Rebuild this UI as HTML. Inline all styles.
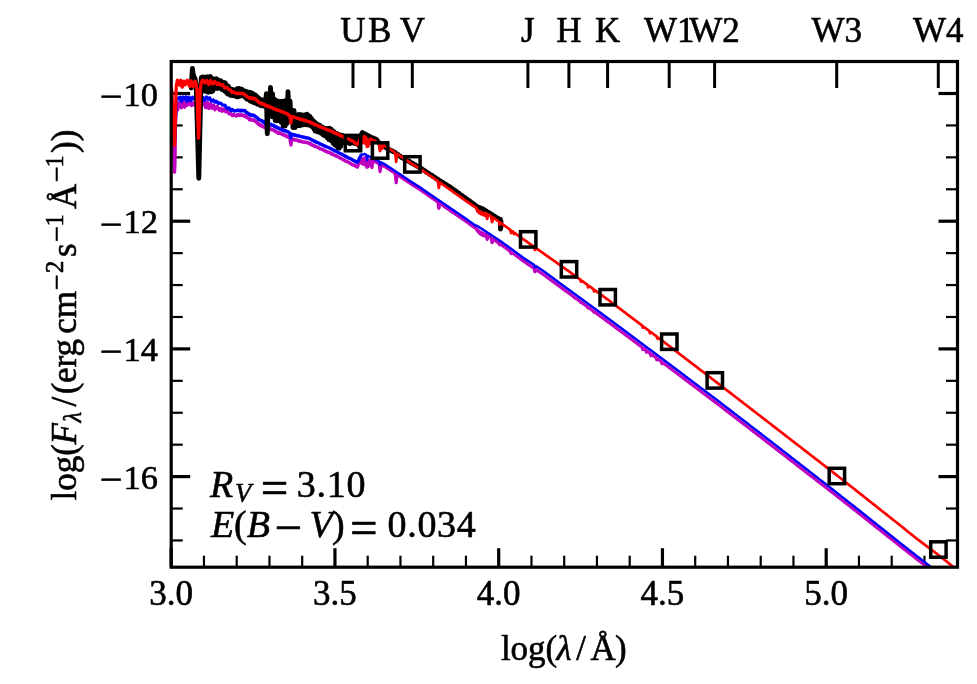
<!DOCTYPE html>
<html lang="en"><head><meta charset="utf-8"><title>SED fit</title>
<style>html,body{margin:0;padding:0;background:#fff;}svg{display:block;}text{font-family:'Liberation Serif', 'DejaVu Serif', serif;fill:#000;stroke:#000;stroke-width:0.6px;stroke-linejoin:round;}.it{font-style:italic;}</style></head><body>
<svg width="977" height="684" viewBox="0 0 977 684">
<rect x="0" y="0" width="977" height="684" fill="#fff"/>
<defs><clipPath id="ax"><rect x="171.20" y="61.50" width="786.30" height="505.70"/></clipPath></defs>
<g stroke="#000" fill="none"><line x1="171.20" y1="567.20" x2="171.20" y2="548.20" stroke-width="3.2"/><line x1="203.95" y1="567.20" x2="203.95" y2="555.70" stroke-width="2.2"/><line x1="236.70" y1="567.20" x2="236.70" y2="555.70" stroke-width="2.2"/><line x1="269.45" y1="567.20" x2="269.45" y2="555.70" stroke-width="2.2"/><line x1="302.20" y1="567.20" x2="302.20" y2="555.70" stroke-width="2.2"/><line x1="334.95" y1="567.20" x2="334.95" y2="548.20" stroke-width="3.2"/><line x1="367.70" y1="567.20" x2="367.70" y2="555.70" stroke-width="2.2"/><line x1="400.45" y1="567.20" x2="400.45" y2="555.70" stroke-width="2.2"/><line x1="433.20" y1="567.20" x2="433.20" y2="555.70" stroke-width="2.2"/><line x1="465.95" y1="567.20" x2="465.95" y2="555.70" stroke-width="2.2"/><line x1="498.70" y1="567.20" x2="498.70" y2="548.20" stroke-width="3.2"/><line x1="531.45" y1="567.20" x2="531.45" y2="555.70" stroke-width="2.2"/><line x1="564.20" y1="567.20" x2="564.20" y2="555.70" stroke-width="2.2"/><line x1="596.95" y1="567.20" x2="596.95" y2="555.70" stroke-width="2.2"/><line x1="629.70" y1="567.20" x2="629.70" y2="555.70" stroke-width="2.2"/><line x1="662.45" y1="567.20" x2="662.45" y2="548.20" stroke-width="3.2"/><line x1="695.20" y1="567.20" x2="695.20" y2="555.70" stroke-width="2.2"/><line x1="727.95" y1="567.20" x2="727.95" y2="555.70" stroke-width="2.2"/><line x1="760.70" y1="567.20" x2="760.70" y2="555.70" stroke-width="2.2"/><line x1="793.45" y1="567.20" x2="793.45" y2="555.70" stroke-width="2.2"/><line x1="826.20" y1="567.20" x2="826.20" y2="548.20" stroke-width="3.2"/><line x1="858.95" y1="567.20" x2="858.95" y2="555.70" stroke-width="2.2"/><line x1="891.70" y1="567.20" x2="891.70" y2="555.70" stroke-width="2.2"/><line x1="924.45" y1="567.20" x2="924.45" y2="555.70" stroke-width="2.2"/><line x1="957.20" y1="567.20" x2="957.20" y2="555.70" stroke-width="2.2"/><line x1="171.20" y1="540.45" x2="182.70" y2="540.45" stroke-width="2.2"/><line x1="957.50" y1="540.45" x2="946.00" y2="540.45" stroke-width="2.2"/><line x1="171.20" y1="508.53" x2="182.70" y2="508.53" stroke-width="2.2"/><line x1="957.50" y1="508.53" x2="946.00" y2="508.53" stroke-width="2.2"/><line x1="171.20" y1="476.60" x2="190.20" y2="476.60" stroke-width="3.2"/><line x1="957.50" y1="476.60" x2="938.50" y2="476.60" stroke-width="3.2"/><line x1="171.20" y1="444.68" x2="182.70" y2="444.68" stroke-width="2.2"/><line x1="957.50" y1="444.68" x2="946.00" y2="444.68" stroke-width="2.2"/><line x1="171.20" y1="412.75" x2="182.70" y2="412.75" stroke-width="2.2"/><line x1="957.50" y1="412.75" x2="946.00" y2="412.75" stroke-width="2.2"/><line x1="171.20" y1="380.83" x2="182.70" y2="380.83" stroke-width="2.2"/><line x1="957.50" y1="380.83" x2="946.00" y2="380.83" stroke-width="2.2"/><line x1="171.20" y1="348.90" x2="190.20" y2="348.90" stroke-width="3.2"/><line x1="957.50" y1="348.90" x2="938.50" y2="348.90" stroke-width="3.2"/><line x1="171.20" y1="316.98" x2="182.70" y2="316.98" stroke-width="2.2"/><line x1="957.50" y1="316.98" x2="946.00" y2="316.98" stroke-width="2.2"/><line x1="171.20" y1="285.05" x2="182.70" y2="285.05" stroke-width="2.2"/><line x1="957.50" y1="285.05" x2="946.00" y2="285.05" stroke-width="2.2"/><line x1="171.20" y1="253.13" x2="182.70" y2="253.13" stroke-width="2.2"/><line x1="957.50" y1="253.13" x2="946.00" y2="253.13" stroke-width="2.2"/><line x1="171.20" y1="221.20" x2="190.20" y2="221.20" stroke-width="3.2"/><line x1="957.50" y1="221.20" x2="938.50" y2="221.20" stroke-width="3.2"/><line x1="171.20" y1="189.28" x2="182.70" y2="189.28" stroke-width="2.2"/><line x1="957.50" y1="189.28" x2="946.00" y2="189.28" stroke-width="2.2"/><line x1="171.20" y1="157.35" x2="182.70" y2="157.35" stroke-width="2.2"/><line x1="957.50" y1="157.35" x2="946.00" y2="157.35" stroke-width="2.2"/><line x1="171.20" y1="125.43" x2="182.70" y2="125.43" stroke-width="2.2"/><line x1="957.50" y1="125.43" x2="946.00" y2="125.43" stroke-width="2.2"/><line x1="171.20" y1="93.50" x2="190.20" y2="93.50" stroke-width="3.2"/><line x1="957.50" y1="93.50" x2="938.50" y2="93.50" stroke-width="3.2"/><line x1="171.20" y1="61.57" x2="182.70" y2="61.57" stroke-width="2.2"/><line x1="957.50" y1="61.57" x2="946.00" y2="61.57" stroke-width="2.2"/><line x1="353.00" y1="61.50" x2="353.00" y2="88.00" stroke-width="3.0"/><line x1="379.80" y1="61.50" x2="379.80" y2="88.00" stroke-width="3.0"/><line x1="412.30" y1="61.50" x2="412.30" y2="88.00" stroke-width="3.0"/><line x1="527.90" y1="61.50" x2="527.90" y2="88.00" stroke-width="3.0"/><line x1="568.90" y1="61.50" x2="568.90" y2="88.00" stroke-width="3.0"/><line x1="607.60" y1="61.50" x2="607.60" y2="88.00" stroke-width="3.0"/><line x1="669.20" y1="61.50" x2="669.20" y2="88.00" stroke-width="3.0"/><line x1="714.60" y1="61.50" x2="714.60" y2="88.00" stroke-width="3.0"/><line x1="836.70" y1="61.50" x2="836.70" y2="88.00" stroke-width="3.0"/><line x1="938.30" y1="61.50" x2="938.30" y2="88.00" stroke-width="3.0"/></g>
<g clip-path="url(#ax)">
<path d="M171.2 108.8 L171.5 108.8 L171.8 108.9 L172.1 110.3 L172.4 114.7 L172.7 120.3 L173.0 126.0 L173.3 131.6 L173.6 135.9 L173.9 151.2 L174.2 161.7 L174.5 172.2 L174.8 167.6 L175.1 155.4 L175.4 126.6 L175.7 119.1 L176.0 113.3 L176.3 107.5 L176.6 108.1 L176.9 108.8 L177.2 109.4 L177.5 110.0 L177.8 108.8 L178.1 107.6 L178.4 106.4 L178.7 105.2 L179.0 104.0 L179.3 102.8 L179.6 103.4 L179.9 104.1 L180.2 104.9 L180.5 105.6 L180.8 106.3 L181.1 107.1 L181.4 107.7 L181.7 106.7 L182.0 105.8 L182.3 104.8 L182.6 103.9 L182.9 102.9 L183.2 102.0 L183.5 103.0 L183.8 104.1 L184.1 105.1 L184.4 106.2 L184.7 107.2 L185.0 106.9 L185.3 105.9 L185.6 104.8 L185.9 103.8 L186.2 102.8 L186.5 102.9 L186.8 103.5 L187.1 104.1 L187.4 104.6 L187.7 105.1 L188.0 104.7 L188.3 104.2 L188.6 103.8 L188.9 103.4 L189.2 102.9 L189.5 102.5 L189.8 102.4 L190.1 103.0 L190.4 103.7 L190.7 104.3 L191.0 105.0 L191.3 105.6 L191.6 105.6 L191.9 104.9 L192.2 104.2 L192.5 103.5 L192.8 102.8 L193.1 102.8 L193.4 103.2 L193.7 103.6 L194.0 104.0 L194.3 104.4 L194.6 104.9 L194.9 105.3 L195.2 105.2 L195.5 104.5 L195.8 103.7 L196.1 103.3 L196.4 103.6 L196.7 104.1 L197.0 105.7 L197.3 107.3 L197.6 116.5 L197.9 125.7 L198.2 134.9 L198.5 143.5 L198.8 139.9 L199.1 130.7 L199.4 121.5 L199.7 112.2 L200.0 105.6 L200.3 104.9 L200.6 104.2 L200.9 103.6 L201.2 103.7 L201.5 104.3 L201.8 104.8 L202.1 104.6 L202.4 104.1 L202.7 103.5 L203.0 103.0 L203.3 102.4 L203.6 101.9 L203.9 102.0 L204.2 103.0 L204.5 103.9 L204.8 104.9 L205.1 105.9 L205.4 106.8 L205.7 107.6 L206.0 106.4 L206.3 105.3 L206.6 104.2 L206.9 103.2 L207.2 102.1 L207.5 103.1 L207.8 104.4 L208.1 105.7 L208.4 107.0 L208.7 108.3 L209.0 108.1 L209.3 107.0 L209.6 106.0 L209.9 104.9 L210.2 103.9 L210.5 103.7 L210.8 104.6 L211.1 105.5 L211.4 106.5 L211.7 107.3 L212.0 108.2 L212.3 107.5 L212.6 106.8 L212.9 106.0 L213.2 105.3 L213.5 104.9 L213.8 106.0 L214.1 107.0 L214.4 108.1 L214.7 109.1 L215.0 109.7 L215.3 109.2 L215.6 108.7 L215.9 108.2 L216.2 107.7 L216.5 107.2 L216.8 106.7 L217.1 106.2 L217.4 106.5 L217.7 107.2 L218.0 107.8 L218.3 108.4 L218.6 108.9 L218.9 109.5 L219.2 110.1 L219.5 110.4 L219.8 109.9 L220.1 109.4 L220.4 108.9 L220.7 108.5 L221.0 108.3 L221.3 109.1 L221.6 109.8 L221.9 110.6 L222.2 111.3 L222.5 111.0 L222.8 110.5 L223.1 110.0 L223.4 109.5 L223.7 109.1 L224.0 109.4 L224.3 109.8 L224.6 110.3 L224.9 110.7 L225.2 111.1 L225.5 111.5 L225.8 111.9 L226.1 111.8 L226.4 111.8 L226.7 111.8 L227.0 111.7 L227.3 111.7 L227.6 111.7 L227.9 111.7 L228.2 112.3 L228.5 112.8 L228.8 113.3 L229.1 113.8 L229.4 113.9 L229.7 113.9 L230.0 113.8 L230.3 113.8 L230.6 113.8 L230.9 113.7 L231.2 113.9 L231.5 114.5 L231.8 115.0 L232.1 115.4 L232.4 115.7 L232.7 115.6 L233.0 115.4 L233.3 115.2 L233.6 114.9 L233.9 114.7 L234.2 114.7 L234.5 115.1 L234.8 115.3 L235.1 115.4 L235.4 115.4 L235.7 115.7 L236.0 116.0 L236.3 115.9 L236.6 115.5 L236.9 115.0 L237.2 114.8 L237.5 115.0 L237.8 115.3 L238.1 115.2 L238.4 114.9 L238.7 114.7 L239.0 114.7 L239.3 115.1 L239.6 115.5 L239.9 115.6 L240.2 115.3 L240.5 115.0 L240.8 114.7 L241.1 114.7 L241.4 115.0 L241.7 115.3 L242.0 115.4 L242.3 115.2 L242.6 115.0 L242.9 115.0 L243.2 115.4 L243.5 115.9 L243.8 116.0 L244.1 115.6 L244.4 115.3 L244.7 115.3 L245.0 115.7 L245.3 116.3 L245.6 116.9 L245.9 116.7 L246.2 116.5 L246.5 116.3 L246.8 116.8 L247.1 117.2 L247.4 117.7 L247.7 118.1 L248.0 118.2 L248.3 118.2 L248.6 118.2 L248.9 118.9 L249.2 119.5 L249.5 119.9 L249.8 119.5 L250.1 119.2 L250.4 118.8 L250.7 119.1 L251.0 119.5 L251.3 120.0 L251.6 120.0 L251.9 119.7 L252.2 119.4 L252.5 119.6 L252.8 120.0 L253.1 120.4 L253.4 120.5 L253.7 120.2 L254.0 119.9 L254.3 120.0 L254.6 120.5 L254.9 121.0 L255.2 121.3 L255.5 121.3 L255.8 121.4 L256.1 121.4 L256.4 121.9 L256.7 122.5 L257.0 123.2 L257.3 123.4 L257.6 123.3 L257.9 123.2 L258.2 123.2 L258.5 123.7 L258.8 124.3 L259.1 124.8 L259.4 124.6 L259.7 124.3 L260.0 124.5 L260.3 125.2 L260.6 125.8 L260.9 125.7 L261.2 125.5 L261.5 125.3 L261.8 125.4 L262.1 125.8 L262.4 126.3 L262.7 126.7 L263.0 126.6 L263.3 126.4 L263.6 126.3 L263.9 126.7 L264.2 127.2 L264.5 127.7 L264.8 127.9 L265.1 127.7 L265.4 127.4 L265.7 127.2 L266.0 127.4 L266.3 127.8 L266.6 128.1 L266.9 127.9 L267.2 127.8 L267.5 128.0 L267.8 128.3 L268.1 128.7 L268.4 129.1 L268.7 129.0 L269.0 128.8 L269.3 128.6 L269.6 128.3 L269.9 128.7 L270.2 129.1 L270.5 129.6 L270.8 129.5 L271.1 129.2 L271.4 129.0 L271.7 129.3 L272.0 129.6 L272.3 129.8 L272.6 129.8 L272.9 129.7 L273.2 129.8 L273.5 130.1 L273.8 130.4 L274.1 130.8 L274.4 130.8 L274.7 130.7 L275.0 130.6 L275.3 131.0 L275.6 131.5 L275.9 131.9 L276.2 131.8 L276.5 131.8 L276.8 131.7 L277.1 131.8 L277.4 132.3 L277.7 132.9 L278.0 133.2 L278.3 132.9 L278.6 132.5 L278.9 132.7 L279.2 133.0 L279.5 133.4 L279.8 133.3 L280.1 133.3 L280.4 133.2 L280.7 133.5 L281.0 133.8 L281.3 134.0 L281.6 134.1 L281.9 134.1 L282.2 134.0 L282.5 134.2 L282.8 134.5 L283.1 134.9 L283.4 135.2 L283.7 135.1 L284.0 134.9 L284.3 134.8 L284.6 134.9 L284.9 135.2 L285.2 135.6 L285.5 135.8 L285.8 135.7 L286.1 135.6 L286.4 135.7 L286.7 136.3 L287.0 136.9 L287.3 136.8 L287.6 136.6 L287.9 136.3 L288.2 136.6 L288.5 137.0 L288.8 137.3 L289.1 137.2 L289.4 137.1 L289.7 137.4 L290.0 139.6 L290.3 141.4 L290.6 143.2 L290.9 145.0 L291.2 143.2 L291.5 141.4 L291.8 139.6 L292.1 139.0 L292.4 139.3 L292.7 139.6 L293.0 139.5 L293.3 139.3 L293.6 139.1 L293.9 139.3 L294.2 139.7 L294.5 140.0 L294.8 140.1 L295.1 139.9 L295.4 139.8 L295.7 139.7 L296.0 139.8 L296.3 140.0 L296.6 140.2 L296.9 140.3 L297.2 140.2 L297.5 140.1 L297.8 140.1 L298.1 140.4 L298.4 140.9 L298.7 141.3 L299.0 141.1 L299.3 140.9 L299.6 140.8 L299.9 140.7 L300.2 141.0 L300.5 141.3 L300.8 141.6 L301.1 141.5 L301.4 141.4 L301.7 141.3 L302.0 141.5 L302.3 141.8 L302.6 142.1 L302.9 141.9 L303.2 141.8 L303.5 141.8 L303.8 142.0 L304.1 142.3 L304.4 142.5 L304.7 142.3 L305.0 142.1 L305.3 142.0 L305.6 142.2 L305.9 142.5 L306.2 142.7 L306.5 142.6 L306.8 142.5 L307.1 142.4 L307.4 142.6 L307.7 142.9 L308.0 143.2 L308.3 143.1 L308.6 142.9 L308.9 142.8 L309.2 143.1 L309.5 143.6 L309.8 144.0 L310.1 144.0 L310.4 143.9 L310.7 143.7 L311.0 143.9 L311.3 144.3 L311.6 144.8 L311.9 145.2 L312.2 145.2 L312.5 145.0 L312.8 144.9 L313.1 145.0 L313.4 145.3 L313.7 145.7 L314.0 146.0 L314.3 145.9 L314.6 145.8 L314.9 145.8 L315.2 146.1 L315.5 146.5 L315.8 146.8 L316.1 146.8 L316.4 146.8 L316.7 146.8 L317.0 147.0 L317.3 147.2 L317.6 147.4 L317.9 147.5 L318.2 147.5 L318.5 147.6 L318.8 147.7 L319.1 148.0 L319.4 148.4 L319.7 148.8 L320.0 149.0 L320.3 148.9 L320.6 148.9 L320.9 148.8 L321.2 148.8 L321.5 149.0 L321.8 149.3 L322.1 149.6 L322.4 149.6 L322.7 149.6 L323.0 149.6 L323.3 149.8 L323.6 150.2 L323.9 150.7 L324.2 150.7 L324.5 150.6 L324.8 150.5 L325.1 150.7 L325.4 151.1 L325.7 151.5 L326.0 151.5 L326.3 151.4 L326.6 151.3 L326.9 151.3 L327.2 151.6 L327.5 151.9 L327.8 152.3 L328.1 152.5 L328.4 152.4 L328.7 152.3 L329.0 152.2 L329.3 152.5 L329.6 152.7 L329.9 153.0 L330.2 153.2 L330.5 153.1 L330.8 153.0 L331.1 153.4 L331.4 153.9 L331.7 154.3 L332.0 154.3 L332.3 154.1 L332.6 154.0 L332.9 154.3 L333.2 154.5 L333.5 154.8 L333.8 154.9 L334.1 154.9 L334.4 154.9 L334.7 155.2 L335.0 155.5 L335.3 155.9 L335.6 155.9 L335.9 155.9 L336.2 155.9 L336.5 156.0 L336.8 156.3 L337.1 156.5 L337.4 156.7 L337.7 156.7 L338.0 156.7 L338.3 156.8 L338.6 157.1 L338.9 157.4 L339.2 157.7 L339.5 157.9 L339.8 157.9 L340.1 157.9 L340.4 158.0 L340.7 158.3 L341.0 158.5 L341.3 158.8 L341.6 158.8 L341.9 158.9 L342.2 159.0 L342.5 159.1 L342.8 159.5 L343.1 159.8 L343.4 160.0 L343.7 160.0 L344.0 160.0 L344.3 159.9 L344.6 160.2 L344.9 160.7 L345.2 161.1 L345.5 161.0 L345.8 161.0 L346.1 161.0 L346.4 161.1 L346.7 161.3 L347.0 161.6 L347.3 161.8 L347.6 161.9 L347.9 161.9 L348.2 162.0 L348.5 162.1 L348.8 162.4 L349.1 162.7 L349.4 163.0 L349.7 163.1 L350.0 163.2 L350.3 163.2 L350.6 163.3 L350.9 163.5 L351.2 163.9 L351.5 164.2 L351.8 164.5 L352.1 164.4 L352.4 164.3 L352.7 164.3 L353.0 164.6 L353.3 165.0 L353.6 165.3 L353.9 165.2 L354.2 165.2 L354.5 165.2 L354.8 165.5 L355.1 165.9 L355.4 166.2 L355.7 166.4 L356.0 166.3 L356.3 166.2 L356.6 166.5 L356.9 166.9 L357.2 167.2 L357.5 167.1 L357.8 166.2 L358.1 165.3 L358.4 164.5 L358.7 164.0 L359.0 163.6 L359.3 162.9 L359.6 162.0 L359.9 161.2 L360.2 160.4 L360.5 159.7 L360.8 159.0 L361.1 158.6 L361.4 159.4" fill="none" stroke="#bf00bf" stroke-width="3.30" stroke-linejoin="round" stroke-linecap="round"/>
<path d="M361.1 158.4 L361.4 159.3 L361.7 161.6 L362.0 163.8 L362.3 161.6 L362.6 159.3 L362.9 158.8 L363.2 161.6 L363.5 164.4 L363.8 163.5 L364.1 160.6 L364.4 157.9 L364.7 161.0 L365.0 164.1 L365.3 165.1 L365.6 162.0 L365.9 158.9 L366.2 160.9 L366.5 164.2 L366.8 167.4 L367.1 164.2 L367.4 160.9 L367.7 160.9 L368.0 163.8 L368.3 166.6 L368.6 163.8 L368.9 160.9 L369.2 161.8 L369.5 164.2 L369.8 165.0 L370.1 162.6 L370.4 160.2 L370.7 159.6 L371.0 159.9 L371.3 162.0 L371.6 164.8 L371.9 167.6 L372.2 166.7 L372.5 163.9 L372.8 161.1 L373.1 160.8 L373.4 161.1 L373.7 161.1 L374.0 161.2 L374.3 161.2 L374.6 161.4 L374.9 161.6 L375.2 161.8 L375.5 162.1 L375.8 162.2 L376.1 162.2 L376.4 162.2 L376.7 162.4 L377.0 162.7 L377.3 162.9 L377.6 163.2 L377.9 163.2 L378.2 163.2 L378.5 163.2 L378.8 163.5 L379.1 164.2 L379.4 166.7 L379.7 169.1 L380.0 171.6 L380.3 170.8 L380.6 168.3 L380.9 165.8 L381.2 164.8 L381.5 165.1 L381.8 165.1 L382.1 165.2 L382.4 165.3 L382.7 165.5 L383.0 165.8 L383.3 166.1 L383.6 166.3 L383.9 166.3 L384.2 166.3 L384.5 166.4 L384.8 166.5 L385.1 166.8 L385.4 167.0 L385.7 167.3 L386.0 167.3 L386.3 167.5 L386.6 167.6 L386.9 167.8 L387.2 168.2 L387.5 168.4 L387.8 168.5 L388.1 168.7 L388.4 168.8 L388.7 169.0 L389.0 169.2 L389.3 169.5 L389.6 169.8 L389.9 170.0 L390.2 170.1 L390.5 170.2 L390.8 170.4 L391.1 170.7 L391.4 170.9 L391.7 171.2 L392.0 171.3 L392.3 171.4 L392.6 171.6 L392.9 171.7 L393.2 172.0 L393.5 172.3 L393.8 172.5 L394.1 172.8 L394.4 172.9 L394.7 173.0 L395.0 173.2 L395.3 174.9 L395.6 177.6 L395.9 180.2 L396.2 182.8 L396.5 180.2 L396.8 177.6 L397.1 174.9 L397.4 175.0 L397.7 175.2 L398.0 175.3 L398.3 175.4 L398.6 175.5 L398.9 175.8 L399.2 176.2 L399.5 176.5 L399.8 176.5 L400.1 176.6 L400.4 176.7 L400.7 176.9 L401.0 177.2 L401.3 177.4 L401.6 177.6 L401.9 177.8 L402.2 177.9 L402.5 178.1 L402.8 178.4 L403.1 178.7 L403.4 179.0 L403.7 179.2 L404.0 179.3 L404.3 179.4 L404.6 179.5 L404.9 179.8 L405.2 180.1 L405.5 180.3 L405.8 180.5 L406.1 180.6 L406.4 180.8 L406.7 181.0 L407.0 181.3 L407.3 181.5 L407.6 181.6 L407.9 181.8 L408.2 181.9 L408.5 182.3 L408.8 182.6 L409.1 182.8 L409.4 182.9 L409.7 183.0 L410.0 183.2 L410.3 183.4 L410.6 183.7 L410.9 183.9 L411.2 184.0 L411.5 184.1 L411.8 184.4 L412.1 184.7 L412.4 185.0 L412.7 185.1 L413.0 185.2 L413.3 185.3 L413.6 185.6 L413.9 185.8 L414.2 186.0 L414.5 186.2 L414.8 186.3 L415.1 186.4 L415.4 186.7 L415.7 187.0 L416.0 187.2 L416.3 187.4 L416.6 187.5 L416.9 187.7 L417.2 187.8 L417.5 188.0 L417.8 188.2 L418.1 188.5 L418.4 188.7 L418.7 188.8 L419.0 188.9 L419.3 189.1 L419.6 189.4 L419.9 189.6 L420.2 189.8 L420.5 190.0 L420.8 190.1 L421.1 190.3 L421.4 190.5 L421.7 190.8 L422.0 191.1 L422.3 191.3 L422.6 191.4 L422.9 191.6 L423.2 191.8 L423.5 192.0 L423.8 192.3 L424.1 192.6 L424.4 192.8 L424.7 192.9 L425.0 193.0 L425.3 193.2 L425.6 193.5 L425.9 193.8 L426.2 194.0 L426.5 194.1 L426.8 194.3 L427.1 194.5 L427.4 194.8 L427.7 195.1 L428.0 195.4 L428.3 195.5 L428.6 195.6 L428.9 195.8 L429.2 196.0 L429.5 196.3 L429.8 196.6 L430.1 196.8 L430.4 196.9 L430.7 197.1 L431.0 197.2 L431.3 197.5 L431.6 197.7 L431.9 198.0 L432.2 198.3 L432.5 198.4 L432.8 198.5 L433.1 198.7 L433.4 198.9 L433.7 199.2 L434.0 199.4 L434.3 199.6 L434.6 199.8 L434.9 199.9 L435.2 200.2 L435.5 200.5 L435.8 200.8 L436.1 200.9 L436.4 201.0 L436.7 201.2 L437.0 201.4 L437.3 201.7 L437.6 201.9 L437.9 202.0 L438.2 204.2 L438.5 206.3 L438.8 208.4 L439.1 207.7 L439.4 205.6 L439.7 203.5 L440.0 203.6 L440.3 203.7 L440.6 203.9 L440.9 204.1 L441.2 204.4 L441.5 204.6 L441.8 204.8 L442.1 204.9 L442.4 205.1 L442.7 205.4 L443.0 205.6 L443.3 205.8 L443.6 206.0 L443.9 206.2 L444.2 206.4 L444.5 206.6 L444.8 206.9 L445.1 207.2 L445.4 207.4 L445.7 207.6 L446.0 207.7 L446.3 207.8 L446.6 208.1 L446.9 208.3 L447.2 208.6 L447.5 208.9 L447.8 209.0 L448.1 209.1 L448.4 209.3 L448.7 209.5 L449.0 209.7 L449.3 210.0 L449.6 210.2 L449.9 210.3 L450.2 210.5 L450.5 210.8 L450.8 211.1 L451.1 211.4 L451.4 211.6 L451.7 211.7 L452.0 211.8 L452.3 212.0 L452.6 212.3 L452.9 212.6 L453.2 212.8 L453.5 213.0 L453.8 213.1 L454.1 213.3 L454.4 213.4 L454.7 213.7 L455.0 214.0 L455.3 214.2 L455.6 214.3 L455.9 214.5 L456.2 214.6 L456.5 214.9 L456.8 215.1 L457.1 215.4 L457.4 215.5 L457.7 215.7 L458.0 215.9 L458.3 216.1 L458.6 216.4 L458.9 216.6 L459.2 216.9 L459.5 217.0 L459.8 217.1 L460.1 217.4 L460.4 217.7 L460.7 217.9 L461.0 218.0 L461.3 218.2 L461.6 218.3 L461.9 218.6 L462.2 218.9 L462.5 219.2 L462.8 219.3 L463.1 219.4 L463.4 219.5 L463.7 219.7 L464.0 220.0 L464.3 220.2 L464.6 220.5 L464.9 220.7 L465.2 220.8 L465.5 221.0 L465.8 221.2 L466.1 221.5 L466.4 221.7 L466.7 221.9 L467.0 222.1 L467.3 222.3 L467.6 222.5 L467.9 222.7 L468.2 223.0 L468.5 223.2 L468.8 223.5 L469.1 223.7 L469.4 223.8 L469.7 224.0 L470.0 224.3 L470.3 224.6 L470.6 224.9 L470.9 225.0 L471.2 225.2 L471.5 225.3 L471.8 225.5 L472.1 225.8 L472.4 226.1 L472.7 226.3 L473.0 226.4 L473.3 226.6 L473.6 226.9 L473.9 227.1 L474.2 227.4 L474.5 227.6 L474.8 227.7 L475.1 227.8 L475.4 228.0 L475.7 228.1 L476.0 228.2 L476.3 229.0 L476.6 229.6 L476.9 230.2 L477.2 230.8 L477.5 231.3 L477.8 230.8 L478.1 230.2 L478.4 230.9 L478.7 231.7 L479.0 232.5 L479.3 233.3 L479.6 232.5 L479.9 231.7 L480.2 232.4 L480.5 233.3 L480.8 234.2 L481.1 234.5 L481.4 233.6 L481.7 232.7 L482.0 233.3 L482.3 234.3 L482.6 235.2 L482.9 235.5 L483.2 234.6 L483.5 233.6 L483.8 234.1 L484.1 234.8 L484.4 235.6 L484.7 235.9 L485.0 235.1 L485.3 234.3 L485.6 234.2 L485.9 234.3 L486.2 235.3 L486.5 236.6 L486.8 238.0 L487.1 239.4 L487.4 238.9 L487.7 237.6 L488.0 236.2 L488.3 235.9 L488.6 236.1 L488.9 236.4 L489.2 236.6 L489.5 236.8 L489.8 237.0 L490.1 237.1 L490.4 237.4 L490.7 237.6 L491.0 237.9 L491.3 239.0 L491.6 240.6 L491.9 242.2 L492.2 242.7 L492.5 241.1 L492.8 239.6 L493.1 239.3 L493.4 239.4 L493.7 239.6 L494.0 239.7 L494.3 240.0 L494.6 240.2 L494.9 240.4 L495.2 240.6 L495.5 240.8 L495.8 241.0 L496.1 241.2 L496.4 241.4 L496.7 241.7 L497.0 242.0 L497.3 242.1 L497.6 242.2 L497.9 242.4 L498.2 242.6 L498.5 242.9 L498.8 243.2 L499.1 244.0 L499.4 244.4 L499.7 244.9 L500.0 244.7 L500.3 244.3 L500.6 244.3 L500.9 244.6 L501.2 244.7 L501.5 244.9 L501.8 245.0 L502.1 245.3 L502.4 245.6 L502.7 245.9 L503.0 246.1 L503.3 246.2 L503.6 246.4 L503.9 246.7 L504.2 247.0 L504.5 247.2 L504.8 247.4 L505.1 247.5 L505.4 247.7 L505.7 248.0 L506.0 248.2 L506.3 248.5 L506.6 248.6 L506.9 248.8 L507.2 249.0 L507.5 249.3 L507.8 249.6 L508.1 249.8 L508.4 250.0 L508.7 250.2 L509.0 250.4 L509.3 250.6 L509.6 250.9 L509.9 251.1 L510.2 251.4 L510.5 252.4 L510.8 253.0 L511.1 253.6 L511.4 253.4 L511.7 252.8 L512.0 252.7 L512.3 252.9 L512.6 253.1 L512.9 253.3 L513.2 253.4 L513.5 253.7 L513.8 253.9 L514.1 254.2 L514.4 254.4 L514.7 254.6 L515.0 254.8 L515.3 255.0 L515.6 255.3 L515.9 255.6 L516.2 255.8 L516.5 256.0 L516.8 256.2 L517.1 256.3 L517.4 256.6 L517.7 256.8 L518.0 257.1 L518.3 257.3 L518.6 257.5 L518.9 257.7 L519.2 257.9 L519.5 258.2 L519.8 258.4 L520.0 258.6 L520.4 258.9 L520.8 259.1 L521.2 259.4 L521.6 259.8 L522.0 260.2 L522.4 260.4 L522.8 260.7 L523.2 260.9 L523.6 261.3 L524.0 261.6 L524.4 261.8 L524.8 262.1 L525.2 262.3 L525.6 262.6 L526.0 262.9 L526.4 263.2 L526.8 263.4 L527.2 263.7 L527.6 263.9 L528.0 264.2 L528.4 264.6 L528.8 264.8 L529.2 265.1 L529.6 265.3 L530.0 265.6 L530.4 265.9 L530.8 266.1 L531.2 266.4 L531.6 266.6 L532.0 266.9 L532.4 267.2 L532.8 267.5 L533.2 267.7 L533.6 267.9 L534.0 268.2 L534.4 270.3 L534.8 271.7 L535.2 271.7 L535.6 270.3 L536.0 269.6 L536.4 269.9 L536.8 270.1 L537.2 270.3 L537.6 270.6 L538.0 271.0 L538.4 271.2 L538.8 271.5 L539.2 271.7 L539.6 272.0 L540.0 272.3 L540.4 272.6 L540.8 272.8 L541.2 273.0 L541.6 273.3 L542.0 273.5 L542.4 273.8 L542.8 274.1 L543.2 274.4 L543.6 274.6 L544.0 274.9 L544.4 275.3 L544.8 275.6 L545.2 275.8 L545.6 276.1 L546.0 276.4 L546.4 276.8 L546.8 277.1 L547.2 277.4 L547.6 277.6 L548.0 277.9 L548.4 278.2 L548.8 278.6 L549.2 278.8 L549.6 279.0 L550.0 279.4 L550.4 279.7 L550.8 280.0 L551.2 280.3 L551.6 280.5 L552.0 280.9 L552.4 281.2 L552.8 281.5 L553.2 281.8 L553.6 282.0 L554.0 282.3 L554.4 282.7 L554.8 283.0 L555.2 283.2 L555.6 283.5 L556.0 283.8 L556.4 284.1 L556.8 284.4 L557.2 284.7 L557.6 285.0 L558.0 285.3 L558.4 285.6 L558.8 285.9 L559.2 286.1 L559.6 286.5 L560.0 286.8 L560.4 287.1 L560.8 287.3 L561.2 287.6 L561.6 287.9 L562.0 288.2 L562.4 288.5 L562.8 288.8 L563.2 289.1 L563.6 289.4 L564.0 289.7 L564.4 290.0 L564.8 290.2 L565.2 290.6 L565.6 290.9 L566.0 291.2 L566.4 291.4 L566.8 291.7 L567.2 292.0 L567.6 292.3 L568.0 292.6 L568.4 292.9 L568.8 293.2 L569.2 293.5 L569.6 293.8 L570.0 294.1 L570.4 294.3 L570.8 294.6 L571.2 294.9 L571.6 295.2 L572.0 295.5 L572.4 295.8 L572.8 296.1 L573.2 296.5 L573.6 296.7 L574.0 297.0 L574.4 297.3 L574.8 298.1 L575.2 298.1 L575.6 298.2 L576.0 298.4 L576.4 298.7 L576.8 299.1 L577.2 299.3 L577.6 299.6 L578.0 299.9 L578.4 300.2 L578.8 300.5 L579.2 300.8 L579.6 301.0 L580.0 301.4 L580.4 301.7 L580.8 302.6 L581.2 302.6 L581.6 302.5 L582.0 302.8 L582.4 303.1 L582.8 303.4 L583.2 303.7 L583.6 304.0 L584.0 304.3 L584.4 304.6 L584.8 304.9 L585.2 305.1 L585.6 305.4 L586.0 305.7 L586.4 306.1 L586.8 306.3 L587.2 306.6 L587.6 307.4 L588.0 307.8 L588.4 307.5 L588.8 307.8 L589.2 308.0 L589.6 308.4 L590.0 308.6 L590.4 308.9 L590.8 309.2 L591.2 309.5 L591.6 309.9 L592.0 310.1 L592.4 310.4 L592.8 310.7 L593.2 311.0 L593.6 311.7 L594.0 312.3 L594.4 311.9 L594.8 312.2 L595.2 312.5 L595.6 312.7 L596.0 313.0 L596.4 313.3 L596.8 313.6 L597.2 313.9 L597.6 314.2 L598.0 314.5 L598.4 314.8 L598.8 315.1 L599.2 315.4 L599.6 315.6 L600.0 315.9 L600.4 316.3 L600.8 316.5 L601.2 316.8 L601.6 317.1 L602.0 317.4 L602.4 317.7 L602.8 318.0 L603.2 318.3 L603.6 318.6 L604.0 318.9 L604.4 319.2 L604.8 319.5 L605.2 319.8 L605.6 320.1 L606.0 320.4 L606.4 320.7 L606.8 321.0 L607.2 321.3 L607.6 321.6 L608.0 321.9 L608.4 322.2 L608.8 322.4 L609.2 322.8 L609.6 323.1 L610.0 323.3 L610.4 323.6 L610.8 323.9 L611.2 324.2 L611.6 324.5 L612.0 324.8 L612.4 325.1 L612.8 325.4 L613.2 325.7 L613.6 326.0 L614.0 326.3 L614.4 326.6 L614.8 326.9 L615.2 327.2 L615.6 327.5 L616.0 327.8 L616.4 328.1 L616.8 328.4 L617.2 328.7 L617.6 329.0 L618.0 329.3 L618.4 329.6 L618.8 329.9 L619.2 330.2 L619.6 330.5 L620.0 330.8 L620.4 331.1 L620.8 331.3 L621.2 331.7 L621.6 332.0 L622.0 332.3 L622.4 332.6 L622.8 332.8 L623.2 333.1 L623.6 333.5 L624.0 333.8 L624.4 334.0 L624.8 334.3 L625.2 334.6 L625.6 335.0 L626.0 335.2 L626.4 335.5 L626.8 335.8 L627.2 336.1 L627.6 336.4 L628.0 336.7 L628.4 337.0 L628.8 337.3 L629.2 337.6 L629.6 337.9 L630.0 338.2 L630.4 338.5 L630.8 338.8 L631.2 339.1 L631.6 339.4 L632.0 339.7 L632.4 340.0 L632.8 340.3 L633.2 340.6 L633.6 340.9 L634.0 341.2 L634.4 341.5 L634.8 341.8 L635.2 342.1 L635.6 342.4 L636.0 342.7 L636.4 343.0 L636.8 343.3 L637.2 343.6 L637.6 343.9 L638.0 344.2 L638.4 344.5 L638.8 344.8 L639.2 345.1 L639.6 345.4 L640.0 345.7 L640.4 346.0 L640.8 346.3 L641.2 346.6 L641.6 346.9 L642.0 347.2 L642.4 348.5 L642.8 349.6 L643.2 349.6 L643.6 348.5 L644.0 348.7 L644.4 349.0 L644.8 349.3 L645.2 349.6 L645.6 349.9 L646.0 351.1 L646.4 352.3 L646.8 351.7 L647.2 351.1 L647.6 351.4 L648.0 351.7 L648.4 352.0 L648.8 352.2 L649.2 352.6 L649.6 352.9 L650.0 353.2 L650.4 354.5 L650.8 355.6 L651.2 355.6 L651.6 354.5 L652.0 354.7 L652.4 354.9 L652.8 355.2 L653.2 355.5 L653.6 355.9 L654.0 356.2 L654.4 356.4 L654.8 356.7 L655.2 357.0 L655.6 357.3 L656.0 357.6 L656.4 358.7 L656.8 359.9 L657.2 359.9 L657.6 358.8 L658.0 359.1 L658.4 359.4 L658.8 359.7 L659.2 360.0 L659.6 360.3 L660.0 360.6 L660.4 360.9 L660.8 361.2 L661.2 361.5 L661.6 362.7 L662.0 363.8 L662.4 362.7 L662.8 362.7 L663.2 363.0 L663.6 363.3 L664.0 363.6 L664.4 363.9 L664.8 364.2 L665.2 364.5 L665.6 364.8 L666.0 365.1 L666.4 365.4 L666.8 365.7 L667.2 366.0 L667.6 366.3 L668.0 366.6 L668.4 366.9 L668.8 367.2 L669.2 367.5 L669.6 367.8 L670.0 368.1 L670.4 368.4 L670.8 368.7 L671.2 369.0 L671.6 369.3 L672.0 369.6 L672.4 369.9 L672.8 370.2 L673.2 370.5 L673.6 370.8 L674.0 371.1 L674.4 371.4 L674.8 371.7 L675.2 372.0 L675.6 372.3 L676.0 372.6 L676.4 372.9 L676.8 373.2 L677.2 373.5 L677.6 373.8 L678.0 374.1 L678.4 374.4 L678.8 374.7 L679.2 375.0 L679.6 375.3 L680.0 375.6 L680.4 375.9 L680.8 376.2 L681.2 376.5 L681.6 376.8 L682.0 377.1 L682.4 377.4 L682.8 377.7 L683.2 378.1 L683.6 378.4 L684.0 378.7 L684.4 378.9 L684.8 379.3 L685.2 379.6 L685.6 379.9 L686.0 380.2 L686.4 380.5 L686.8 380.8 L687.2 381.1 L687.6 381.4 L688.0 381.7 L688.4 382.0 L688.8 382.3 L689.2 382.6 L689.6 382.9 L690.0 383.2 L690.4 383.5 L690.8 383.8 L691.2 384.1 L691.6 384.4 L692.0 384.7 L692.4 385.0 L692.8 385.3 L693.2 385.6 L693.6 385.9 L694.0 386.2 L694.4 386.5 L694.8 386.8 L695.2 387.1 L695.6 387.4 L696.0 387.7 L696.4 388.0 L696.8 388.3 L697.2 388.6 L697.6 388.9 L698.0 389.2 L698.4 389.5 L698.8 389.8 L699.2 390.1 L699.6 390.4 L700.0 390.7 L701.0 391.4 L702.0 392.2 L703.0 392.9 L704.0 393.7 L705.0 394.5 L706.0 395.2 L707.0 396.0 L708.0 396.7 L709.0 397.5 L710.0 398.2 L711.0 399.0 L712.0 399.7 L713.0 400.5 L714.0 401.2 L715.0 402.0 L716.0 402.8 L717.0 403.5 L718.0 404.3 L719.0 405.1 L720.0 405.8 L721.0 406.6 L722.0 407.4 L723.0 408.1 L724.0 408.9 L725.0 409.7 L726.0 410.4 L727.0 411.2 L728.0 412.0 L729.0 412.8 L730.0 413.5 L731.0 414.3 L732.0 415.1 L733.0 415.8 L734.0 416.6 L735.0 417.4 L736.0 418.1 L737.0 418.9 L738.0 419.7 L739.0 420.4 L740.0 421.2 L741.0 422.0 L742.0 422.7 L743.0 423.5 L744.0 424.3 L745.0 425.0 L746.0 425.8 L747.0 426.6 L748.0 427.3 L749.0 428.1 L750.0 428.9 L751.0 429.7 L752.0 430.4 L753.0 431.2 L754.0 432.0 L755.0 432.7 L756.0 433.5 L757.0 434.3 L758.0 435.0 L759.0 435.8 L760.0 436.6 L761.0 437.3 L762.0 438.1 L763.0 438.9 L764.0 439.6 L765.0 440.4 L766.0 441.2 L767.0 441.9 L768.0 442.7 L769.0 443.5 L770.0 444.2 L771.0 445.0 L772.0 445.8 L773.0 446.6 L774.0 447.3 L775.0 448.1 L776.0 448.9 L777.0 449.7 L778.0 450.4 L779.0 451.2 L780.0 452.0 L781.0 452.8 L782.0 453.5 L783.0 454.3 L784.0 455.1 L785.0 455.9 L786.0 456.6 L787.0 457.4 L788.0 458.2 L789.0 459.0 L790.0 459.7 L791.0 460.5 L792.0 461.3 L793.0 462.1 L794.0 462.8 L795.0 463.6 L796.0 464.4 L797.0 465.2 L798.0 465.9 L799.0 466.7 L800.0 467.5 L801.0 468.3 L802.0 469.0 L803.0 469.8 L804.0 470.6 L805.0 471.4 L806.0 472.1 L807.0 472.9 L808.0 473.7 L809.0 474.5 L810.0 475.2 L811.0 476.0 L812.0 476.8 L813.0 477.6 L814.0 478.3 L815.0 479.1 L816.0 479.9 L817.0 480.7 L818.0 481.4 L819.0 482.2 L820.0 483.0 L821.0 483.8 L822.0 484.5 L823.0 485.3 L824.0 486.1 L825.0 486.9 L826.0 487.6 L827.0 488.4 L828.0 489.2 L829.0 490.0 L830.0 490.7 L831.0 491.5 L832.0 492.3 L833.0 493.1 L834.0 493.9 L835.0 494.6 L836.0 495.4 L837.0 496.2 L838.0 497.0 L839.0 497.8 L840.0 498.6 L841.0 499.3 L842.0 500.1 L843.0 500.9 L844.0 501.7 L845.0 502.5 L846.0 503.3 L847.0 504.0 L848.0 504.8 L849.0 505.6 L850.0 506.4 L851.0 507.2 L852.0 508.0 L853.0 508.7 L854.0 509.5 L855.0 510.3 L856.0 511.1 L857.0 511.9 L858.0 512.7 L859.0 513.5 L860.0 514.3 L861.0 515.1 L862.0 515.8 L863.0 516.6 L864.0 517.4 L865.0 518.2 L866.0 519.0 L867.0 519.8 L868.0 520.6 L869.0 521.4 L870.0 522.2 L871.0 523.0 L872.0 523.8 L873.0 524.6 L874.0 525.4 L875.0 526.2 L876.0 527.0 L877.0 527.7 L878.0 528.5 L879.0 529.3 L880.0 530.1 L881.0 530.9 L882.0 531.7 L883.0 532.5 L884.0 533.3 L885.0 534.1 L886.0 534.9 L887.0 535.7 L888.0 536.5 L889.0 537.3 L890.0 538.1 L891.0 538.8 L892.0 539.6 L893.0 540.4 L894.0 541.2 L895.0 542.0 L896.0 542.8 L897.0 543.6 L898.0 544.4 L899.0 545.2 L900.0 546.0 L901.0 546.7 L902.0 547.5 L903.0 548.3 L904.0 549.1 L905.0 549.9 L906.0 550.6 L907.0 551.4 L908.0 552.2 L909.0 553.0 L910.0 553.8 L911.0 554.6 L912.0 555.3 L913.0 556.1 L914.0 556.9 L915.0 557.7 L916.0 558.5 L917.0 559.2 L918.0 560.0 L919.0 560.8 L920.0 561.6 L921.0 562.4 L922.0 563.1 L923.0 563.9 L924.0 564.7 L925.0 565.5 L926.0 566.3 L927.0 567.0 L928.0 567.8 L929.0 568.6 L930.0 569.4 L931.0 570.2 L932.0 571.0 L933.0 571.8 L934.0 572.6 L935.0 573.3 L936.0 574.1 L937.0 574.9 L938.0 575.7 L939.0 576.5 L940.0 577.3 L941.0 577.3 L942.0 577.3 L943.0 577.3 L944.0 577.3 L945.0 577.3 L946.0 577.3 L947.0 577.3 L948.0 577.3 L949.0 577.3 L950.0 577.3 L951.0 577.3 L952.0 577.3 L953.0 577.3 L954.0 577.3 L955.0 577.3 L956.0 577.3 L957.0 577.3 L958.0 577.3" fill="none" stroke="#bf00bf" stroke-width="3.10" stroke-linejoin="round" stroke-linecap="round"/>
<path d="M171.2 103.3 L171.5 103.6 L171.8 103.8 L172.1 104.2 L172.4 108.4 L172.7 113.7 L173.0 119.0 L173.3 124.4 L173.6 129.7 L173.9 133.8 L174.2 137.6 L174.5 141.4 L174.8 137.3 L175.1 129.4 L175.4 121.5 L175.7 114.3 L176.0 107.4 L176.3 100.4 L176.6 99.9 L176.9 99.3 L177.2 98.8 L177.5 99.1 L177.8 99.1 L178.1 98.8 L178.4 98.5 L178.7 98.2 L179.0 98.0 L179.3 97.7 L179.6 97.4 L179.9 97.3 L180.2 98.3 L180.5 99.3 L180.8 100.2 L181.1 101.2 L181.4 101.4 L181.7 100.4 L182.0 99.4 L182.3 98.5 L182.6 97.5 L182.9 97.1 L183.2 97.7 L183.5 98.3 L183.8 98.8 L184.1 99.4 L184.4 99.0 L184.7 98.6 L185.0 98.1 L185.3 97.6 L185.6 97.1 L185.9 96.8 L186.2 97.9 L186.5 99.0 L186.8 100.1 L187.1 101.2 L187.4 101.1 L187.7 100.3 L188.0 99.5 L188.3 98.7 L188.6 97.9 L188.9 97.1 L189.2 97.4 L189.5 98.0 L189.8 98.6 L190.1 99.2 L190.4 99.8 L190.7 100.3 L191.0 100.6 L191.3 99.9 L191.6 99.2 L191.9 98.6 L192.2 97.9 L192.5 97.3 L192.8 97.6 L193.1 97.9 L193.4 98.2 L193.7 98.6 L194.0 98.9 L194.3 99.2 L194.6 99.2 L194.9 98.8 L195.2 98.3 L195.5 97.9 L195.8 97.5 L196.1 97.4 L196.4 98.2 L196.7 100.4 L197.0 102.5 L197.3 104.7 L197.6 114.4 L197.9 122.7 L198.2 130.5 L198.5 138.3 L198.8 134.8 L199.1 125.5 L199.4 116.2 L199.7 107.8 L200.0 102.4 L200.3 101.9 L200.6 101.5 L200.9 101.0 L201.2 100.8 L201.5 100.1 L201.8 99.5 L202.1 98.8 L202.4 98.1 L202.7 97.4 L203.0 97.6 L203.3 98.2 L203.6 98.8 L203.9 99.5 L204.2 100.1 L204.5 100.3 L204.8 99.7 L205.1 99.2 L205.4 98.6 L205.7 98.1 L206.0 97.6 L206.3 97.0 L206.6 97.2 L206.9 97.6 L207.2 98.0 L207.5 98.4 L207.8 98.8 L208.1 99.2 L208.4 99.0 L208.7 98.6 L209.0 98.2 L209.3 98.0 L209.6 97.8 L209.9 98.4 L210.2 99.0 L210.5 99.6 L210.8 100.1 L211.1 100.7 L211.4 101.2 L211.7 101.1 L212.0 100.9 L212.3 100.7 L212.6 100.5 L212.9 100.3 L213.2 100.1 L213.5 99.9 L213.8 100.3 L214.1 100.8 L214.4 101.3 L214.7 101.7 L215.0 102.2 L215.3 102.2 L215.6 102.0 L215.9 101.8 L216.2 101.6 L216.5 101.4 L216.8 101.5 L217.1 101.9 L217.4 102.3 L217.7 102.6 L218.0 103.0 L218.3 103.3 L218.6 103.3 L218.9 103.3 L219.2 103.2 L219.5 103.2 L219.8 103.1 L220.1 103.1 L220.4 103.1 L220.7 103.2 L221.0 103.5 L221.3 103.8 L221.6 104.1 L221.9 104.4 L222.2 104.6 L222.5 104.9 L222.8 105.2 L223.1 105.2 L223.4 105.1 L223.7 105.1 L224.0 105.1 L224.3 105.1 L224.6 105.1 L224.9 105.2 L225.2 105.7 L225.5 106.2 L225.8 106.7 L226.1 107.2 L226.4 107.7 L226.7 108.1 L227.0 108.6 L227.3 108.5 L227.6 108.4 L227.9 108.3 L228.2 108.2 L228.5 108.1 L228.8 108.0 L229.1 107.9 L229.4 108.3 L229.7 108.9 L230.0 109.4 L230.3 109.9 L230.6 110.5 L230.9 110.7 L231.2 110.4 L231.5 110.0 L231.8 109.7 L232.1 109.4 L232.4 109.4 L232.7 109.7 L233.0 110.0 L233.3 110.4 L233.6 110.7 L233.9 111.0 L234.2 111.2 L234.5 111.0 L234.8 110.8 L235.1 110.7 L235.4 110.6 L235.7 110.7 L236.0 110.8 L236.3 110.6 L236.6 110.5 L236.9 110.3 L237.2 110.2 L237.5 110.4 L237.8 110.6 L238.1 110.5 L238.4 110.3 L238.7 110.1 L239.0 110.2 L239.3 110.5 L239.6 110.8 L239.9 111.0 L240.2 110.7 L240.5 110.4 L240.8 110.1 L241.1 110.3 L241.4 110.5 L241.7 110.8 L242.0 110.8 L242.3 110.6 L242.6 110.5 L242.9 110.3 L243.2 110.5 L243.5 110.7 L243.8 110.9 L244.1 110.9 L244.4 110.8 L244.7 110.6 L245.0 110.5 L245.3 111.1 L245.6 111.6 L245.9 112.2 L246.2 112.6 L246.5 112.5 L246.8 112.4 L247.1 112.4 L247.4 112.8 L247.7 113.2 L248.0 113.4 L248.3 113.6 L248.6 113.7 L248.9 113.8 L249.2 114.2 L249.5 114.7 L249.8 115.1 L250.1 114.7 L250.4 114.4 L250.7 114.5 L251.0 114.8 L251.3 115.1 L251.6 115.3 L251.9 115.1 L252.2 114.9 L252.5 114.8 L252.8 115.1 L253.1 115.3 L253.4 115.5 L253.7 115.3 L254.0 115.2 L254.3 115.3 L254.6 115.8 L254.9 116.3 L255.2 116.7 L255.5 116.6 L255.8 116.5 L256.1 116.8 L256.4 117.2 L256.7 117.7 L257.0 118.1 L257.3 118.2 L257.6 118.2 L257.9 118.1 L258.2 118.6 L258.5 119.1 L258.8 119.6 L259.1 120.0 L259.4 119.9 L259.7 119.9 L260.0 119.8 L260.3 119.8 L260.6 120.1 L260.9 120.4 L261.2 120.6 L261.5 120.7 L261.8 120.7 L262.1 120.6 L262.4 121.3 L262.7 121.9 L263.0 122.1 L263.3 122.0 L263.6 121.8 L263.9 121.6 L264.2 122.0 L264.5 122.6 L264.8 123.2 L265.1 123.1 L265.4 122.7 L265.7 122.4 L266.0 122.8 L266.3 123.1 L266.6 123.5 L266.9 123.6 L267.2 123.5 L267.5 123.3 L267.8 123.2 L268.1 123.5 L268.4 123.7 L268.7 123.9 L269.0 124.1 L269.3 124.0 L269.6 123.8 L269.9 124.0 L270.2 124.4 L270.5 124.9 L270.8 125.0 L271.1 124.6 L271.4 124.3 L271.7 124.5 L272.0 124.9 L272.3 125.4 L272.6 125.3 L272.9 125.2 L273.2 125.2 L273.5 125.2 L273.8 125.7 L274.1 126.1 L274.4 126.5 L274.7 126.8 L275.0 126.6 L275.3 126.5 L275.6 126.3 L275.9 126.5 L276.2 126.9 L276.5 127.4 L276.8 127.6 L277.1 127.5 L277.4 127.3 L277.7 127.4 L278.0 127.8 L278.3 128.2 L278.6 128.4 L278.9 128.4 L279.2 128.3 L279.5 128.2 L279.8 128.3 L280.1 128.8 L280.4 129.4 L280.7 129.6 L281.0 129.4 L281.3 129.2 L281.6 129.1 L281.9 129.5 L282.2 129.9 L282.5 130.3 L282.8 130.5 L283.1 130.4 L283.4 130.2 L283.7 130.0 L284.0 130.1 L284.3 130.6 L284.6 131.1 L284.9 131.1 L285.2 130.9 L285.5 130.7 L285.8 130.6 L286.1 131.0 L286.4 131.3 L286.7 131.6 L287.0 131.9 L287.3 131.8 L287.6 131.7 L287.9 131.7 L288.2 131.8 L288.5 132.2 L288.8 132.5 L289.1 132.7 L289.4 132.8 L289.7 132.8 L290.0 133.7 L290.3 135.1 L290.6 136.5 L290.9 137.9 L291.2 136.5 L291.5 135.1 L291.8 134.1 L292.1 134.2 L292.4 134.5 L292.7 134.9 L293.0 134.9 L293.3 134.7 L293.6 134.5 L293.9 134.8 L294.2 135.0 L294.5 135.3 L294.8 135.4 L295.1 135.2 L295.4 135.0 L295.7 135.1 L296.0 135.4 L296.3 135.6 L296.6 135.9 L296.9 135.8 L297.2 135.7 L297.5 135.5 L297.8 135.5 L298.1 135.8 L298.4 136.1 L298.7 136.1 L299.0 136.1 L299.3 136.0 L299.6 136.0 L299.9 136.2 L300.2 136.4 L300.5 136.7 L300.8 136.7 L301.1 136.7 L301.4 136.6 L301.7 136.6 L302.0 136.8 L302.3 137.0 L302.6 137.1 L302.9 137.0 L303.2 137.0 L303.5 137.0 L303.8 137.1 L304.1 137.3 L304.4 137.5 L304.7 137.5 L305.0 137.4 L305.3 137.4 L305.6 137.5 L305.9 137.8 L306.2 138.0 L306.5 138.2 L306.8 138.1 L307.1 138.0 L307.4 137.8 L307.7 138.0 L308.0 138.2 L308.3 138.2 L308.6 138.2 L308.9 138.1 L309.2 138.3 L309.5 138.5 L309.8 138.8 L310.1 139.1 L310.4 139.2 L310.7 139.2 L311.0 139.2 L311.3 139.3 L311.6 139.6 L311.9 140.0 L312.2 140.3 L312.5 140.4 L312.8 140.4 L313.1 140.3 L313.4 140.3 L313.7 140.7 L314.0 141.0 L314.3 141.4 L314.6 141.5 L314.9 141.5 L315.2 141.4 L315.5 141.4 L315.8 141.9 L316.1 142.3 L316.4 142.5 L316.7 142.4 L317.0 142.3 L317.3 142.4 L317.6 142.6 L317.9 142.8 L318.2 143.0 L318.5 143.0 L318.8 143.0 L319.1 143.2 L319.4 143.6 L319.7 144.0 L320.0 143.9 L320.3 143.9 L320.6 143.8 L320.9 144.2 L321.2 144.5 L321.5 144.7 L321.8 144.6 L322.1 144.6 L322.4 144.8 L322.7 145.1 L323.0 145.4 L323.3 145.6 L323.6 145.6 L323.9 145.6 L324.2 145.5 L324.5 145.7 L324.8 146.1 L325.1 146.4 L325.4 146.6 L325.7 146.5 L326.0 146.4 L326.3 146.5 L326.6 146.9 L326.9 147.2 L327.2 147.2 L327.5 147.2 L327.8 147.2 L328.1 147.3 L328.4 147.5 L328.7 147.7 L329.0 147.9 L329.3 147.9 L329.6 147.9 L329.9 148.0 L330.2 148.2 L330.5 148.5 L330.8 148.8 L331.1 148.8 L331.4 148.9 L331.7 148.9 L332.0 149.1 L332.3 149.3 L332.6 149.6 L332.9 149.8 L333.2 149.8 L333.5 149.8 L333.8 150.1 L334.1 150.5 L334.4 151.0 L334.7 150.9 L335.0 150.8 L335.3 150.7 L335.6 150.9 L335.9 151.2 L336.2 151.4 L336.5 151.5 L336.8 151.6 L337.1 151.7 L337.4 151.9 L337.7 152.3 L338.0 152.7 L338.3 152.9 L338.6 152.9 L338.9 152.8 L339.2 152.8 L339.5 153.1 L339.8 153.4 L340.1 153.7 L340.4 153.7 L340.7 153.7 L341.0 153.7 L341.3 154.0 L341.6 154.3 L341.9 154.6 L342.2 154.6 L342.5 154.6 L342.8 154.6 L343.1 154.9 L343.4 155.2 L343.7 155.5 L344.0 155.5 L344.3 155.5 L344.6 155.6 L344.9 155.9 L345.2 156.2 L345.5 156.5 L345.8 156.4 L346.1 156.4 L346.4 156.5 L346.7 156.8 L347.0 157.2 L347.3 157.3 L347.6 157.3 L347.9 157.3 L348.2 157.5 L348.5 157.9 L348.8 158.2 L349.1 158.4 L349.4 158.3 L349.7 158.3 L350.0 158.3 L350.3 158.5 L350.6 158.8 L350.9 159.0 L351.2 159.1 L351.5 159.2 L351.8 159.2 L352.1 159.5 L352.4 159.8 L352.7 160.2 L353.0 160.4 L353.3 160.4 L353.6 160.3 L353.9 160.3 L354.2 160.6 L354.5 161.0 L354.8 161.3 L355.1 161.3 L355.4 161.3 L355.7 161.4 L356.0 161.7 L356.3 162.1 L356.6 162.3 L356.9 162.3 L357.2 162.3 L357.5 162.2 L357.8 161.6 L358.1 161.1 L358.4 160.5 L358.7 159.9 L359.0 159.2 L359.3 158.5 L359.6 157.9 L359.9 157.4 L360.2 156.8 L360.5 156.2 L360.8 155.5 L361.1 155.0 L361.4 154.9" fill="none" stroke="#0000ff" stroke-width="3.30" stroke-linejoin="round" stroke-linecap="round"/>
<path d="M361.1 155.3 L361.4 155.2 L361.7 155.1 L362.0 155.0 L362.3 154.8 L362.6 154.7 L362.9 154.5 L363.2 154.5 L363.5 154.4 L363.8 154.3 L364.1 154.2 L364.4 154.0 L364.7 154.0 L365.0 154.1 L365.3 154.3 L365.6 154.5 L365.9 154.7 L366.2 154.8 L366.5 156.0 L366.8 158.0 L367.1 160.1 L367.4 159.4 L367.7 157.3 L368.0 155.8 L368.3 155.9 L368.6 156.0 L368.9 156.2 L369.2 156.4 L369.5 156.7 L369.8 156.7 L370.1 156.8 L370.4 156.9 L370.7 157.1 L371.0 157.4 L371.3 157.6 L371.6 157.7 L371.9 157.8 L372.2 157.8 L372.5 158.0 L372.8 158.2 L373.1 158.4 L373.4 158.5 L373.7 158.6 L374.0 158.7 L374.3 158.9 L374.6 159.1 L374.9 159.3 L375.2 159.5 L375.5 159.6 L375.8 159.6 L376.1 159.8 L376.4 160.1 L376.7 160.3 L377.0 160.4 L377.3 160.5 L377.6 160.5 L377.9 160.6 L378.2 160.8 L378.5 161.0 L378.8 161.2 L379.1 161.3 L379.4 162.5 L379.7 163.6 L380.0 164.7 L380.3 164.3 L380.6 163.3 L380.9 162.3 L381.2 162.4 L381.5 162.5 L381.8 162.7 L382.1 162.9 L382.4 163.1 L382.7 163.3 L383.0 163.4 L383.3 163.5 L383.6 163.6 L383.9 163.8 L384.2 164.1 L384.5 164.4 L384.8 164.5 L385.1 164.5 L385.4 164.6 L385.7 164.8 L386.0 165.0 L386.3 165.2 L386.6 165.4 L386.9 165.6 L387.2 165.8 L387.5 166.0 L387.8 166.3 L388.1 166.6 L388.4 166.7 L388.7 166.8 L389.0 167.0 L389.3 167.2 L389.6 167.4 L389.9 167.7 L390.2 167.8 L390.5 167.9 L390.8 168.2 L391.1 168.4 L391.4 168.7 L391.7 168.9 L392.0 169.0 L392.3 169.2 L392.6 169.4 L392.9 169.6 L393.2 169.9 L393.5 170.1 L393.8 170.2 L394.1 170.3 L394.4 170.5 L394.7 170.8 L395.0 171.0 L395.3 171.2 L395.6 171.4 L395.9 171.6 L396.2 171.7 L396.5 172.0 L396.8 172.3 L397.1 172.5 L397.4 172.7 L397.7 172.8 L398.0 172.9 L398.3 173.1 L398.6 173.4 L398.9 173.7 L399.2 173.9 L399.5 174.0 L399.8 174.1 L400.1 174.3 L400.4 174.6 L400.7 174.8 L401.0 175.0 L401.3 175.1 L401.6 175.3 L401.9 175.6 L402.2 175.8 L402.5 176.1 L402.8 176.3 L403.1 176.4 L403.4 176.5 L403.7 176.7 L404.0 177.0 L404.3 177.2 L404.6 177.4 L404.9 177.6 L405.2 177.7 L405.5 178.0 L405.8 178.3 L406.1 178.5 L406.4 178.6 L406.7 178.8 L407.0 178.9 L407.3 179.2 L407.6 179.4 L407.9 179.6 L408.2 179.8 L408.5 180.0 L408.8 180.1 L409.1 180.4 L409.4 180.6 L409.7 180.9 L410.0 181.0 L410.3 181.2 L410.6 181.3 L410.9 181.5 L411.2 181.8 L411.5 182.0 L411.8 182.2 L412.1 182.4 L412.4 182.5 L412.7 182.7 L413.0 182.9 L413.3 183.1 L413.6 183.4 L413.9 183.6 L414.2 183.7 L414.5 183.9 L414.8 184.0 L415.1 184.2 L415.4 184.5 L415.7 184.7 L416.0 184.8 L416.3 185.0 L416.6 185.1 L416.9 185.4 L417.2 185.6 L417.5 185.8 L417.8 186.0 L418.1 186.1 L418.4 186.2 L418.7 186.5 L419.0 186.7 L419.3 186.9 L419.6 187.1 L419.9 187.2 L420.2 187.4 L420.5 187.6 L420.8 187.8 L421.1 188.1 L421.4 188.3 L421.7 188.5 L422.0 188.7 L422.3 188.9 L422.6 189.2 L422.9 189.4 L423.2 189.6 L423.5 189.7 L423.8 189.9 L424.1 190.2 L424.4 190.5 L424.7 190.6 L425.0 190.8 L425.3 191.0 L425.6 191.2 L425.9 191.4 L426.2 191.7 L426.5 191.9 L426.8 192.0 L427.1 192.2 L427.4 192.4 L427.7 192.7 L428.0 192.9 L428.3 193.2 L428.6 193.3 L428.9 193.5 L429.2 193.7 L429.5 193.9 L429.8 194.2 L430.1 194.5 L430.4 194.7 L430.7 194.8 L431.0 194.9 L431.3 195.1 L431.6 195.4 L431.9 195.6 L432.2 195.8 L432.5 196.0 L432.8 196.1 L433.1 196.4 L433.4 196.6 L433.7 196.9 L434.0 197.1 L434.3 197.3 L434.6 197.4 L434.9 197.6 L435.2 197.8 L435.5 198.0 L435.8 198.3 L436.1 198.5 L436.4 198.7 L436.7 198.8 L437.0 199.0 L437.3 199.2 L437.6 199.5 L437.9 199.7 L438.2 199.9 L438.5 200.1 L438.8 200.2 L439.1 200.5 L439.4 200.8 L439.7 201.0 L440.0 201.1 L440.3 201.3 L440.6 201.4 L440.9 201.7 L441.2 201.9 L441.5 202.1 L441.8 202.3 L442.1 202.5 L442.4 202.7 L442.7 202.9 L443.0 203.1 L443.3 203.4 L443.6 203.6 L443.9 203.7 L444.2 203.9 L444.5 204.1 L444.8 204.4 L445.1 204.6 L445.4 204.8 L445.7 205.0 L446.0 205.1 L446.3 205.4 L446.6 205.6 L446.9 205.9 L447.2 206.0 L447.5 206.2 L447.8 206.4 L448.1 206.5 L448.4 206.8 L448.7 207.0 L449.0 207.3 L449.3 207.5 L449.6 207.6 L449.9 207.8 L450.2 208.0 L450.5 208.2 L450.8 208.4 L451.1 208.6 L451.4 208.9 L451.7 209.0 L452.0 209.2 L452.3 209.4 L452.6 209.6 L452.9 209.8 L453.2 210.1 L453.5 210.3 L453.8 210.5 L454.1 210.6 L454.4 210.8 L454.7 211.1 L455.0 211.3 L455.3 211.5 L455.6 211.7 L455.9 211.9 L456.2 212.1 L456.5 212.3 L456.8 212.5 L457.1 212.7 L457.4 212.9 L457.7 213.2 L458.0 213.3 L458.3 213.5 L458.6 213.7 L458.9 213.9 L459.2 214.2 L459.5 214.4 L459.8 214.6 L460.1 214.7 L460.4 214.9 L460.7 215.2 L461.0 215.4 L461.3 215.6 L461.6 215.8 L461.9 215.9 L462.2 216.2 L462.5 216.4 L462.8 216.6 L463.1 216.9 L463.4 217.0 L463.7 217.2 L464.0 217.4 L464.3 217.6 L464.6 217.8 L464.9 218.1 L465.2 218.2 L465.5 218.4 L465.8 218.6 L466.1 218.9 L466.4 219.1 L466.7 219.3 L467.0 219.5 L467.3 219.7 L467.6 219.9 L467.9 220.2 L468.2 220.5 L468.5 220.6 L468.8 220.8 L469.1 221.0 L469.4 221.2 L469.7 221.5 L470.0 221.7 L470.3 222.0 L470.6 222.1 L470.9 222.3 L471.2 222.5 L471.5 222.7 L471.8 223.0 L472.1 223.2 L472.4 223.5 L472.7 223.6 L473.0 223.8 L473.3 224.0 L473.6 224.2 L473.9 224.4 L474.2 224.6 L474.5 224.8 L474.8 225.0 L475.1 225.2 L475.4 225.3 L475.7 225.4 L476.0 225.5 L476.3 225.6 L476.6 225.7 L476.9 225.8 L477.2 226.0 L477.5 226.2 L477.8 226.3 L478.1 226.5 L478.4 226.7 L478.7 226.9 L479.0 227.0 L479.3 227.2 L479.6 227.4 L479.9 227.7 L480.2 227.9 L480.5 228.1 L480.8 228.3 L481.1 228.4 L481.4 228.6 L481.7 228.8 L482.0 229.0 L482.3 229.3 L482.6 229.5 L482.9 229.6 L483.2 229.7 L483.5 230.0 L483.8 230.2 L484.1 230.4 L484.4 230.7 L484.7 230.8 L485.0 231.0 L485.3 231.1 L485.6 231.4 L485.9 231.6 L486.2 231.8 L486.5 232.0 L486.8 232.1 L487.1 232.3 L487.4 232.5 L487.7 232.7 L488.0 232.9 L488.3 233.1 L488.6 233.3 L488.9 233.5 L489.2 233.7 L489.5 233.9 L489.8 234.1 L490.1 234.3 L490.4 234.5 L490.7 234.6 L491.0 234.9 L491.3 235.1 L491.6 235.4 L491.9 235.5 L492.2 235.7 L492.5 235.9 L492.8 236.1 L493.1 236.3 L493.4 236.5 L493.7 236.7 L494.0 236.9 L494.3 237.1 L494.6 237.2 L494.9 237.4 L495.2 237.6 L495.5 237.8 L495.8 238.1 L496.1 238.3 L496.4 238.4 L496.7 238.6 L497.0 238.8 L497.3 239.0 L497.6 239.2 L497.9 239.4 L498.2 239.6 L498.5 239.8 L498.8 240.0 L499.1 240.2 L499.4 240.4 L499.7 240.6 L500.0 240.8 L500.3 241.0 L500.6 241.2 L500.9 241.4 L501.2 241.7 L501.5 241.9 L501.8 242.1 L502.1 242.3 L502.4 242.5 L502.7 242.7 L503.0 242.9 L503.3 243.2 L503.6 243.4 L503.9 243.6 L504.2 243.8 L504.5 244.0 L504.8 244.3 L505.1 244.5 L505.4 244.7 L505.7 244.9 L506.0 245.1 L506.3 245.3 L506.6 245.5 L506.9 245.8 L507.2 246.0 L507.5 246.2 L507.8 246.4 L508.1 246.6 L508.4 246.8 L508.7 247.1 L509.0 247.3 L509.3 247.5 L509.6 247.7 L509.9 247.9 L510.2 248.1 L510.5 248.3 L510.8 248.6 L511.1 248.8 L511.4 249.0 L511.7 249.2 L512.0 249.4 L512.3 249.6 L512.6 249.9 L512.9 250.1 L513.2 250.4 L513.5 250.6 L513.8 250.8 L514.1 250.9 L514.4 251.2 L514.7 251.4 L515.0 251.7 L515.3 251.9 L515.6 252.1 L515.9 252.3 L516.2 252.5 L516.5 252.7 L516.8 253.0 L517.1 253.2 L517.4 253.5 L517.7 253.7 L518.0 253.9 L518.3 254.1 L518.6 254.3 L518.9 254.5 L519.2 254.8 L519.5 255.0 L519.8 255.2 L520.0 255.3 L520.4 255.6 L520.8 255.9 L521.2 256.2 L521.6 256.5 L522.0 256.8 L522.4 257.1 L522.8 257.4 L523.2 257.7 L523.6 258.0 L524.0 258.3 L524.4 258.6 L524.8 258.9 L525.2 259.1 L525.6 259.3 L526.0 259.6 L526.4 259.9 L526.8 260.1 L527.2 260.4 L527.6 260.6 L528.0 260.9 L528.4 261.2 L528.8 261.4 L529.2 261.7 L529.6 261.9 L530.0 262.2 L530.4 262.5 L530.8 262.7 L531.2 263.0 L531.6 263.2 L532.0 263.5 L532.4 263.8 L532.8 264.0 L533.2 264.3 L533.6 264.6 L534.0 264.8 L534.4 266.4 L534.8 267.3 L535.2 267.3 L535.6 266.4 L536.0 266.1 L536.4 266.4 L536.8 266.7 L537.2 267.0 L537.6 267.2 L538.0 267.4 L538.4 267.7 L538.8 268.0 L539.2 268.3 L539.6 268.5 L540.0 268.7 L540.4 269.0 L540.8 269.3 L541.2 269.6 L541.6 269.8 L542.0 270.1 L542.4 270.3 L542.8 270.6 L543.2 270.9 L543.6 271.2 L544.0 271.5 L544.4 271.7 L544.8 272.1 L545.2 272.4 L545.6 272.7 L546.0 272.9 L546.4 273.2 L546.8 273.5 L547.2 273.9 L547.6 274.1 L548.0 274.4 L548.4 274.7 L548.8 275.0 L549.2 275.3 L549.6 275.6 L550.0 275.9 L550.4 276.2 L550.8 276.5 L551.2 276.8 L551.6 277.1 L552.0 277.3 L552.4 277.6 L552.8 278.0 L553.2 278.3 L553.6 278.5 L554.0 278.8 L554.4 279.1 L554.8 279.4 L555.2 279.7 L555.6 280.0 L556.0 280.3 L556.4 280.6 L556.8 280.9 L557.2 281.2 L557.6 281.5 L558.0 281.8 L558.4 282.1 L558.8 282.4 L559.2 282.7 L559.6 283.0 L560.0 283.3 L560.4 283.5 L560.8 283.8 L561.2 284.1 L561.6 284.4 L562.0 284.7 L562.4 285.0 L562.8 285.3 L563.2 285.6 L563.6 285.9 L564.0 286.2 L564.4 286.5 L564.8 286.8 L565.2 287.1 L565.6 287.3 L566.0 287.6 L566.4 287.9 L566.8 288.2 L567.2 288.5 L567.6 288.8 L568.0 289.1 L568.4 289.4 L568.8 289.7 L569.2 290.0 L569.6 290.3 L570.0 290.5 L570.4 290.8 L570.8 291.2 L571.2 291.4 L571.6 291.7 L572.0 292.0 L572.4 292.3 L572.8 292.6 L573.2 292.9 L573.6 293.2 L574.0 293.5 L574.4 293.8 L574.8 294.1 L575.2 294.3 L575.6 294.6 L576.0 294.9 L576.4 295.2 L576.8 295.5 L577.2 295.8 L577.6 296.1 L578.0 296.4 L578.4 296.7 L578.8 297.0 L579.2 297.3 L579.6 297.6 L580.0 297.9 L580.4 298.1 L580.8 298.4 L581.2 298.7 L581.6 299.0 L582.0 299.3 L582.4 299.6 L582.8 299.9 L583.2 300.2 L583.6 300.5 L584.0 300.8 L584.4 301.1 L584.8 301.3 L585.2 301.6 L585.6 301.9 L586.0 302.2 L586.4 302.5 L586.8 302.8 L587.2 303.1 L587.6 303.4 L588.0 303.7 L588.4 304.0 L588.8 304.3 L589.2 304.6 L589.6 304.8 L590.0 305.1 L590.4 305.4 L590.8 305.7 L591.2 306.0 L591.6 306.3 L592.0 306.6 L592.4 306.9 L592.8 307.2 L593.2 307.5 L593.6 307.8 L594.0 308.1 L594.4 308.3 L594.8 308.6 L595.2 308.9 L595.6 309.2 L596.0 309.5 L596.4 309.8 L596.8 310.1 L597.2 310.4 L597.6 310.7 L598.0 311.0 L598.4 311.3 L598.8 311.6 L599.2 311.8 L599.6 312.1 L600.0 312.4 L600.4 312.7 L600.8 313.0 L601.2 313.3 L601.6 313.6 L602.0 313.9 L602.4 314.2 L602.8 314.5 L603.2 314.8 L603.6 315.1 L604.0 315.4 L604.4 315.7 L604.8 316.0 L605.2 316.3 L605.6 316.6 L606.0 316.9 L606.4 317.2 L606.8 317.5 L607.2 317.8 L607.6 318.1 L608.0 318.4 L608.4 318.7 L608.8 318.9 L609.2 319.2 L609.6 319.5 L610.0 319.8 L610.4 320.1 L610.8 320.4 L611.2 320.7 L611.6 321.0 L612.0 321.3 L612.4 321.6 L612.8 321.9 L613.2 322.2 L613.6 322.5 L614.0 322.8 L614.4 323.1 L614.8 323.4 L615.2 323.7 L615.6 324.0 L616.0 324.3 L616.4 324.6 L616.8 324.9 L617.2 325.2 L617.6 325.5 L618.0 325.8 L618.4 326.1 L618.8 326.4 L619.2 326.7 L619.6 327.0 L620.0 327.2 L620.4 327.5 L620.8 327.8 L621.2 328.1 L621.6 328.4 L622.0 328.7 L622.4 329.0 L622.8 329.3 L623.2 329.6 L623.6 329.9 L624.0 330.2 L624.4 330.5 L624.8 330.8 L625.2 331.1 L625.6 331.4 L626.0 331.7 L626.4 332.0 L626.8 332.3 L627.2 332.6 L627.6 332.9 L628.0 333.2 L628.4 333.5 L628.8 333.8 L629.2 334.1 L629.6 334.4 L630.0 334.7 L630.4 335.0 L630.8 335.3 L631.2 335.6 L631.6 335.9 L632.0 336.2 L632.4 336.5 L632.8 336.8 L633.2 337.1 L633.6 337.4 L634.0 337.7 L634.4 338.0 L634.8 338.3 L635.2 338.6 L635.6 338.9 L636.0 339.2 L636.4 339.5 L636.8 339.8 L637.2 340.1 L637.6 340.4 L638.0 340.7 L638.4 341.0 L638.8 341.3 L639.2 341.6 L639.6 341.9 L640.0 342.2 L640.4 342.5 L640.8 342.8 L641.2 343.1 L641.6 343.4 L642.0 343.7 L642.4 344.0 L642.8 344.3 L643.2 344.6 L643.6 344.9 L644.0 345.2 L644.4 345.5 L644.8 345.8 L645.2 346.1 L645.6 346.4 L646.0 346.7 L646.4 347.0 L646.8 347.3 L647.2 347.6 L647.6 347.9 L648.0 348.2 L648.4 348.5 L648.8 348.8 L649.2 349.1 L649.6 349.4 L650.0 349.6 L650.4 349.9 L650.8 350.2 L651.2 350.5 L651.6 350.8 L652.0 351.1 L652.4 351.4 L652.8 351.7 L653.2 352.0 L653.6 352.3 L654.0 352.6 L654.4 352.9 L654.8 353.2 L655.2 353.5 L655.6 353.8 L656.0 354.1 L656.4 354.4 L656.8 354.7 L657.2 355.0 L657.6 355.3 L658.0 355.6 L658.4 355.9 L658.8 356.2 L659.2 356.5 L659.6 356.8 L660.0 357.1 L660.4 357.4 L660.8 357.7 L661.2 358.0 L661.6 358.3 L662.0 358.6 L662.4 358.9 L662.8 359.2 L663.2 359.5 L663.6 359.8 L664.0 360.1 L664.4 360.4 L664.8 360.7 L665.2 361.0 L665.6 361.3 L666.0 361.6 L666.4 361.9 L666.8 362.2 L667.2 362.5 L667.6 362.8 L668.0 363.1 L668.4 363.4 L668.8 363.7 L669.2 364.0 L669.6 364.3 L670.0 364.6 L670.4 364.9 L670.8 365.2 L671.2 365.5 L671.6 365.8 L672.0 366.1 L672.4 366.4 L672.8 366.7 L673.2 367.0 L673.6 367.3 L674.0 367.6 L674.4 367.9 L674.8 368.2 L675.2 368.5 L675.6 368.8 L676.0 369.1 L676.4 369.4 L676.8 369.7 L677.2 370.0 L677.6 370.3 L678.0 370.6 L678.4 370.9 L678.8 371.2 L679.2 371.5 L679.6 371.8 L680.0 372.1 L680.4 372.4 L680.8 372.7 L681.2 373.0 L681.6 373.3 L682.0 373.6 L682.4 373.9 L682.8 374.2 L683.2 374.5 L683.6 374.8 L684.0 375.1 L684.4 375.4 L684.8 375.8 L685.2 376.1 L685.6 376.4 L686.0 376.7 L686.4 377.0 L686.8 377.3 L687.2 377.6 L687.6 377.9 L688.0 378.2 L688.4 378.5 L688.8 378.8 L689.2 379.1 L689.6 379.4 L690.0 379.7 L690.4 380.0 L690.8 380.3 L691.2 380.6 L691.6 380.9 L692.0 381.2 L692.4 381.5 L692.8 381.8 L693.2 382.1 L693.6 382.4 L694.0 382.7 L694.4 383.0 L694.8 383.3 L695.2 383.6 L695.6 383.9 L696.0 384.2 L696.4 384.5 L696.8 384.8 L697.2 385.1 L697.6 385.4 L698.0 385.7 L698.4 386.0 L698.8 386.3 L699.2 386.6 L699.6 386.9 L700.0 387.2 L701.0 387.9 L702.0 388.7 L703.0 389.4 L704.0 390.2 L705.0 391.0 L706.0 391.7 L707.0 392.5 L708.0 393.2 L709.0 394.0 L710.0 394.7 L711.0 395.5 L712.0 396.2 L713.0 397.0 L714.0 397.7 L715.0 398.5 L716.0 399.3 L717.0 400.0 L718.0 400.8 L719.0 401.6 L720.0 402.3 L721.0 403.1 L722.0 403.9 L723.0 404.6 L724.0 405.4 L725.0 406.2 L726.0 406.9 L727.0 407.7 L728.0 408.5 L729.0 409.3 L730.0 410.0 L731.0 410.8 L732.0 411.6 L733.0 412.3 L734.0 413.1 L735.0 413.9 L736.0 414.6 L737.0 415.4 L738.0 416.2 L739.0 416.9 L740.0 417.7 L741.0 418.5 L742.0 419.2 L743.0 420.0 L744.0 420.8 L745.0 421.5 L746.0 422.3 L747.0 423.1 L748.0 423.8 L749.0 424.6 L750.0 425.4 L751.0 426.2 L752.0 426.9 L753.0 427.7 L754.0 428.5 L755.0 429.2 L756.0 430.0 L757.0 430.8 L758.0 431.5 L759.0 432.3 L760.0 433.1 L761.0 433.8 L762.0 434.6 L763.0 435.4 L764.0 436.1 L765.0 436.9 L766.0 437.7 L767.0 438.4 L768.0 439.2 L769.0 440.0 L770.0 440.8 L771.0 441.5 L772.0 442.3 L773.0 443.1 L774.0 443.9 L775.0 444.6 L776.0 445.4 L777.0 446.2 L778.0 447.0 L779.0 447.8 L780.0 448.5 L781.0 449.3 L782.0 450.1 L783.0 450.9 L784.0 451.6 L785.0 452.4 L786.0 453.2 L787.0 454.0 L788.0 454.8 L789.0 455.5 L790.0 456.3 L791.0 457.1 L792.0 457.9 L793.0 458.6 L794.0 459.4 L795.0 460.2 L796.0 461.0 L797.0 461.8 L798.0 462.5 L799.0 463.3 L800.0 464.1 L801.0 464.9 L802.0 465.6 L803.0 466.4 L804.0 467.2 L805.0 468.0 L806.0 468.8 L807.0 469.5 L808.0 470.3 L809.0 471.1 L810.0 471.9 L811.0 472.6 L812.0 473.4 L813.0 474.2 L814.0 475.0 L815.0 475.8 L816.0 476.5 L817.0 477.3 L818.0 478.1 L819.0 478.9 L820.0 479.6 L821.0 480.4 L822.0 481.2 L823.0 482.0 L824.0 482.8 L825.0 483.5 L826.0 484.3 L827.0 485.1 L828.0 485.9 L829.0 486.6 L830.0 487.4 L831.0 488.2 L832.0 489.0 L833.0 489.8 L834.0 490.6 L835.0 491.3 L836.0 492.1 L837.0 492.9 L838.0 493.7 L839.0 494.5 L840.0 495.3 L841.0 496.1 L842.0 496.9 L843.0 497.6 L844.0 498.4 L845.0 499.2 L846.0 500.0 L847.0 500.8 L848.0 501.6 L849.0 502.4 L850.0 503.1 L851.0 503.9 L852.0 504.7 L853.0 505.5 L854.0 506.3 L855.0 507.1 L856.0 507.9 L857.0 508.6 L858.0 509.4 L859.0 510.2 L860.0 511.0 L861.0 511.8 L862.0 512.6 L863.0 513.4 L864.0 514.2 L865.0 515.0 L866.0 515.8 L867.0 516.6 L868.0 517.4 L869.0 518.2 L870.0 519.0 L871.0 519.8 L872.0 520.6 L873.0 521.4 L874.0 522.2 L875.0 523.0 L876.0 523.8 L877.0 524.6 L878.0 525.4 L879.0 526.2 L880.0 527.0 L881.0 527.8 L882.0 528.6 L883.0 529.3 L884.0 530.1 L885.0 530.9 L886.0 531.7 L887.0 532.5 L888.0 533.3 L889.0 534.1 L890.0 534.9 L891.0 535.7 L892.0 536.5 L893.0 537.3 L894.0 538.1 L895.0 538.9 L896.0 539.7 L897.0 540.5 L898.0 541.3 L899.0 542.1 L900.0 542.9 L901.0 543.6 L902.0 544.4 L903.0 545.2 L904.0 546.0 L905.0 546.8 L906.0 547.6 L907.0 548.3 L908.0 549.1 L909.0 549.9 L910.0 550.7 L911.0 551.5 L912.0 552.3 L913.0 553.0 L914.0 553.8 L915.0 554.6 L916.0 555.4 L917.0 556.2 L918.0 556.9 L919.0 557.7 L920.0 558.5 L921.0 559.3 L922.0 560.1 L923.0 560.9 L924.0 561.6 L925.0 562.4 L926.0 563.2 L927.0 564.0 L928.0 564.8 L929.0 565.6 L930.0 566.3 L931.0 567.1 L932.0 567.9 L933.0 568.7 L934.0 569.5 L935.0 570.3 L936.0 571.1 L937.0 571.9 L938.0 572.7 L939.0 573.5 L940.0 574.2 L941.0 574.2 L942.0 574.2 L943.0 574.2 L944.0 574.2 L945.0 574.2 L946.0 574.2 L947.0 574.2 L948.0 574.2 L949.0 574.2 L950.0 574.2 L951.0 574.2 L952.0 574.2 L953.0 574.2 L954.0 574.2 L955.0 574.2 L956.0 574.2 L957.0 574.2 L958.0 574.2" fill="none" stroke="#0000ff" stroke-width="2.45" stroke-linejoin="round" stroke-linecap="round"/>
<path d="M191.3 88.0 L191.8 78.0 L192.4 68.4 L193.0 73.5 L193.8 76.5 L195.0 78.5 L196.2 86.0 L198.8 178.3 L200.9 86.0 L201.3 79.0 L201.4 77.5 L202.2 87.3 L202.9 77.0 L203.7 90.7 L204.4 77.2 L205.2 91.2 L205.9 78.2 L206.7 91.5 L207.4 76.7 L208.2 92.2 L208.9 77.5 L209.7 90.4 L210.4 76.4 L211.2 91.8 L211.9 78.1 L212.7 91.0 L213.4 78.9 L214.2 88.9 L214.9 79.2 L215.7 88.3 L216.4 78.8 L217.2 88.6 L217.9 79.6 L218.7 88.1 L219.4 80.6 L220.2 88.3 L220.9 80.7 L221.7 89.4 L222.4 82.3 L223.2 89.9 L223.9 82.4 L224.7 90.9 L225.4 82.9 L226.2 92.2 L226.9 85.2 L227.7 94.0 L228.4 86.3 L229.2 94.3 L229.9 88.6 L230.7 95.4 L231.4 89.3 L232.2 95.6 L232.9 89.7 L233.7 95.9 L234.4 89.9 L235.2 96.0 L235.9 89.4 L236.7 96.8 L237.4 88.8 L238.2 96.9 L238.9 88.5 L239.7 96.3 L240.4 89.0 L241.2 95.9 L241.9 89.2 L242.7 95.4 L243.4 90.4 L244.2 96.5 L244.9 91.0 L245.7 97.9 L246.4 91.5 L247.2 99.2 L247.9 92.2 L248.7 99.6 L249.4 92.1 L250.2 101.0 L250.9 92.7 L251.7 101.5 L252.4 93.3 L253.2 102.2 L253.9 94.5 L254.7 102.9 L255.4 95.0 L256.1 103.4 L256.9 96.4 L257.6 104.3 L258.4 97.6 L259.1 104.5 L259.9 99.0 L260.6 105.6 L261.4 99.6 L262.1 105.9 L262.9 100.2 L263.6 106.0 L264.4 101.0 L265.6 101.0 L266.4 93.8 L267.3 133.8 L268.3 94.0 L269.3 114.0 L270.5 87.5 L271.5 116.5 L272.5 93.8 L273.5 117.0 L274.3 99.0 L275.2 120.5 L276.2 100.5 L277.2 120.8 L278.2 101.2 L279.2 120.8 L280.2 101.5 L281.2 122.5 L282.2 101.2 L283.2 126.0 L284.2 101.2 L285.2 126.0 L286.2 100.5 L287.0 123.5 L288.0 91.6 L289.0 120.8 L290.0 101.0 L291.0 121.5 L292.0 110.3 L293.0 127.5 L294.0 110.5 L295.0 127.5 L296.0 115.0 L296.5 115.7 L297.2 125.7 L298.0 114.8 L298.8 125.6 L299.5 114.5 L300.2 125.5 L301.0 114.8 L301.8 124.7 L302.5 115.0 L303.2 124.7 L304.0 115.3 L304.8 124.5 L305.5 114.8 L306.2 124.8 L307.0 114.1 L307.8 124.5 L308.5 115.4 L309.2 125.4 L310.0 116.5 L310.8 125.3 L311.5 118.5 L312.2 126.9 L313.0 120.5 L313.8 128.8 L314.5 121.6 L315.2 131.1 L316.0 123.1 L316.8 131.4 L317.5 124.2 L318.2 132.1 L319.0 124.9 L319.8 132.3 L320.5 125.7 L321.2 133.2 L322.0 127.3 L322.8 134.4 L323.5 127.7 L324.2 135.6 L325.0 128.4 L325.8 136.1 L326.5 128.4 L327.2 137.7 L328.0 128.6 L328.8 139.5 L329.5 128.1 L330.2 140.1 L331.0 129.0 L331.8 141.1 L332.5 130.5 L333.2 143.3 L334.0 131.8 L334.8 144.9 L335.5 133.0 L336.2 145.9 L337.0 133.4 L337.8 147.6 L338.5 134.1 L339.2 148.2 L340.0 136.0 L340.8 146.4 L341.5 135.2 L342.2 139.9 L343.0 135.6 L343.8 140.1 L344.5 136.3 L345.2 143.0 L346.0 136.6 L346.8 142.1 L347.5 137.4 L348.2 142.8 L349.0 137.3 L349.8 143.6 L350.5 138.0 L351.2 143.0 L352.0 137.8 L352.8 142.4 L353.5 138.0 L354.2 143.4 L355.0 138.7 L355.8 143.4 L356.5 138.7 L357.2 144.2 L358.0 139.4 L358.8 144.4" fill="none" stroke="#000" stroke-width="4.90" stroke-linejoin="round" stroke-linecap="round"/>
<path d="M359.6 147.0 L359.8 143.0 L360.0 141.2 L360.6 137.7 L361.2 135.0 L361.8 133.7 L362.4 132.6 L363.0 133.0 L363.6 133.4 L364.2 133.5 L364.8 133.7 L365.4 134.2 L366.0 134.6 L366.6 134.8 L367.2 135.1 L367.8 135.5 L368.4 136.0 L369.0 136.4 L369.6 136.6 L370.2 136.7 L370.8 137.2 L371.4 137.7 L372.0 137.8 L372.6 137.9 L373.2 138.0 L373.8 138.3 L374.4 138.7 L375.0 138.8 L375.6 139.0 L376.2 139.4 L376.8 139.9 L377.4 140.7 L378.0 141.5 L378.6 142.4 L379.2 143.3 L379.8 143.9 L380.4 144.5 L381.0 144.7 L381.6 144.9 L382.2 145.1 L382.8 145.6 L383.4 146.1 L384.0 146.5 L384.6 146.8 L385.2 147.0 L385.8 147.4 L386.4 148.0 L387.0 148.4 L387.6 148.6 L388.2 148.8 L388.8 149.2 L389.4 149.7 L390.0 150.1 L390.6 150.3 L391.2 150.4 L391.8 150.7 L392.4 151.1 L393.0 151.5 L393.6 151.8 L394.2 152.0 L394.8 152.2 L395.4 152.8 L396.0 153.4 L396.6 154.0 L397.2 154.2 L397.8 154.5 L398.4 155.0 L399.0 155.6 L399.6 155.9 L400.2 156.1 L400.8 156.8 L401.4 157.5 L402.0 157.8 L402.6 158.0 L403.2 158.3 L403.8 158.7 L404.4 159.2 L405.0 159.4 L405.6 159.5 L406.2 159.9 L406.8 160.3 L407.4 160.8 L408.0 160.9 L408.6 161.1 L409.2 161.2 L409.8 161.7 L410.4 162.3 L411.0 162.8 L411.6 162.9 L412.2 162.9 L412.8 163.5 L413.4 164.0 L414.0 164.4 L414.6 164.6 L415.2 164.8 L415.8 165.3 L416.4 165.9 L417.0 166.3 L417.6 166.4 L418.2 166.5 L418.8 167.0 L419.4 167.5 L420.0 168.0 L420.6 168.2 L421.2 168.4 L421.8 168.8 L422.4 169.3 L423.0 169.8 L423.6 170.1 L424.2 170.4 L424.8 170.7 L425.4 171.3 L426.0 171.9 L426.6 172.4 L427.2 172.6 L427.8 172.7 L428.4 173.1 L429.0 173.7 L429.6 174.3 L430.2 174.7 L430.8 174.8 L431.4 175.0 L432.0 175.4 L432.6 176.1 L433.2 176.7 L433.8 176.9 L434.4 177.1 L435.0 177.4 L435.6 178.1 L436.2 178.7 L436.8 178.9 L437.4 179.1 L438.0 179.4 L438.6 180.1 L439.2 180.6 L439.8 180.7 L440.4 180.9 L441.0 181.5 L441.6 182.2 L442.2 182.4 L442.8 182.5 L443.4 182.8 L444.0 183.4 L444.6 183.9 L445.2 184.3 L445.8 184.4 L446.4 184.6 L447.0 185.1 L447.6 185.7 L448.2 186.1 L448.8 186.3 L449.4 186.5 L450.0 186.9 L450.6 187.6 L451.2 188.2 L451.8 188.5 L452.4 188.7 L453.0 189.1 L453.6 189.7 L454.2 190.2 L454.8 190.6 L455.4 190.8 L456.0 191.2 L456.6 191.7 L457.2 192.3 L457.8 192.7 L458.4 193.0 L459.0 193.3 L459.6 193.9 L460.2 194.6 L460.8 195.1 L461.4 195.3 L462.0 195.5 L462.6 196.0 L463.2 196.7 L463.8 197.1 L464.4 197.3 L465.0 197.7 L465.6 198.2 L466.2 198.7 L466.8 199.1 L467.4 199.4 L468.0 199.8 L468.6 200.3 L469.2 200.9 L469.8 201.2 L470.4 201.5 L471.0 202.1 L471.6 202.7 L472.2 203.2 L472.8 203.5 L473.4 203.8 L474.0 204.2 L474.6 204.7 L475.2 205.3 L475.8 205.7 L476.4 206.0 L477.0 206.6 L477.6 207.0 L478.2 207.4 L478.8 207.5 L479.4 207.5 L480.0 207.8 L480.6 208.2 L481.2 208.5 L481.8 208.6 L482.4 208.6 L483.0 209.0 L483.6 209.5 L484.2 209.9 L484.8 210.1 L485.4 210.4 L486.0 211.0 L486.6 211.5 L487.2 211.9 L487.8 212.1 L488.4 212.3 L489.0 212.7 L489.6 213.2 L490.2 213.6 L490.8 213.8 L491.4 214.1 L492.0 214.7 L492.6 215.4 L493.2 215.6 L493.8 215.8 L494.4 216.0 L495.0 216.6 L495.6 217.3 L496.2 217.5 L496.8 217.7 L497.4 217.8 L498.0 218.3 L498.6 218.7 L499.2 219.1 L499.8 219.2 L500.4 219.4 L500.6 223.0 L500.5 229.0 L501.1 226.0 L500.9 221.0" fill="none" stroke="#000" stroke-width="4.90" stroke-linejoin="round" stroke-linecap="round"/>
<path d="M171.2 87.7 L171.5 89.2 L171.8 91.3 L172.1 95.1 L172.4 102.4 L172.7 109.7 L173.0 117.0 L173.3 123.2 L173.6 128.8 L173.9 134.3 L174.2 139.9 L174.5 145.4 L174.8 140.3 L175.1 129.1 L175.4 118.0 L175.7 106.8 L176.0 95.5 L176.3 85.9 L176.6 84.3 L176.9 82.7 L177.2 81.4 L177.5 80.2 L177.8 81.1 L178.1 82.0 L178.4 82.9 L178.7 83.8 L179.0 84.7 L179.3 85.1 L179.6 84.1 L179.9 83.1 L180.2 82.1 L180.5 81.1 L180.8 80.3 L181.1 82.0 L181.4 83.6 L181.7 85.3 L182.0 87.0 L182.3 87.2 L182.6 86.0 L182.9 84.7 L183.2 83.5 L183.5 82.3 L183.8 81.1 L184.1 81.8 L184.4 82.6 L184.7 83.3 L185.0 84.1 L185.3 84.7 L185.6 84.1 L185.9 83.4 L186.2 82.8 L186.5 82.1 L186.8 81.5 L187.1 80.8 L187.4 80.2 L187.7 80.8 L188.0 81.8 L188.3 82.7 L188.6 83.6 L188.9 84.5 L189.2 85.4 L189.5 86.3 L189.8 86.4 L190.1 85.0 L190.4 83.6 L190.7 82.3 L191.0 80.9 L191.3 81.5 L191.6 82.4 L191.9 83.2 L192.2 84.1 L192.5 85.0 L192.8 85.8 L193.1 86.3 L193.4 85.5 L193.7 84.6 L194.0 83.8 L194.3 82.9 L194.6 82.1 L194.9 81.2 L195.2 81.7 L195.5 82.2 L195.8 82.7 L196.1 84.6 L196.4 86.6 L196.7 88.6 L197.0 90.6 L197.3 100.4 L197.6 109.8 L197.9 119.2 L198.2 128.7 L198.5 138.2 L198.8 134.1 L199.1 123.5 L199.4 114.1 L199.7 104.6 L200.0 95.1 L200.3 88.3 L200.6 86.9 L200.9 85.6 L201.2 83.2 L201.5 82.1 L201.8 81.6 L202.1 81.2 L202.4 80.7 L202.7 80.3 L203.0 80.2 L203.3 80.7 L203.6 81.3 L203.9 81.8 L204.2 82.4 L204.5 82.9 L204.8 82.8 L205.1 82.4 L205.4 82.0 L205.7 81.6 L206.0 81.2 L206.3 80.8 L206.6 80.5 L206.9 81.1 L207.2 81.7 L207.5 82.2 L207.8 82.8 L208.1 83.4 L208.4 83.9 L208.7 84.5 L209.0 83.8 L209.3 83.1 L209.6 82.4 L209.9 81.8 L210.2 81.1 L210.5 80.5 L210.8 81.1 L211.1 81.6 L211.4 82.1 L211.7 82.6 L212.0 83.1 L212.3 83.6 L212.6 84.0 L212.9 84.0 L213.2 83.5 L213.5 83.0 L213.8 82.6 L214.1 82.2 L214.4 81.8 L214.7 81.4 L215.0 81.5 L215.3 81.9 L215.6 82.4 L215.9 82.8 L216.2 83.3 L216.5 83.7 L216.8 84.2 L217.1 84.6 L217.4 84.3 L217.7 83.9 L218.0 83.6 L218.3 83.2 L218.6 82.9 L218.9 83.3 L219.2 83.7 L219.5 84.1 L219.8 84.5 L220.1 84.9 L220.4 85.3 L220.7 85.2 L221.0 85.1 L221.3 84.9 L221.6 84.8 L221.9 84.7 L222.2 84.6 L222.5 84.6 L222.8 84.8 L223.1 85.4 L223.4 85.9 L223.7 86.4 L224.0 86.9 L224.3 87.5 L224.6 88.0 L224.9 87.9 L225.2 87.8 L225.5 87.7 L225.8 87.6 L226.1 87.6 L226.4 87.5 L226.7 87.4 L227.0 87.6 L227.3 88.0 L227.6 88.3 L227.9 88.6 L228.2 89.0 L228.5 89.3 L228.8 89.6 L229.1 89.9 L229.4 89.9 L229.7 89.9 L230.0 89.9 L230.3 89.9 L230.6 90.1 L230.9 90.6 L231.2 91.2 L231.5 91.7 L231.8 92.2 L232.1 92.5 L232.4 92.4 L232.7 92.2 L233.0 92.2 L233.3 92.2 L233.6 92.2 L233.9 92.3 L234.2 92.2 L234.5 92.4 L234.8 92.5 L235.1 92.8 L235.4 93.1 L235.7 93.3 L236.0 93.5 L236.3 93.5 L236.6 93.4 L236.9 93.4 L237.2 93.4 L237.5 93.5 L237.8 93.5 L238.1 93.4 L238.4 93.3 L238.7 93.2 L239.0 93.3 L239.3 93.5 L239.6 93.7 L239.9 93.7 L240.2 93.6 L240.5 93.4 L240.8 93.3 L241.1 93.4 L241.4 93.5 L241.7 93.6 L242.0 93.7 L242.3 93.6 L242.6 93.5 L242.9 93.4 L243.2 93.6 L243.5 93.8 L243.8 93.8 L244.1 93.8 L244.4 94.0 L244.7 94.2 L245.0 94.8 L245.3 95.3 L245.6 95.6 L245.9 95.7 L246.2 95.7 L246.5 95.8 L246.8 96.1 L247.1 96.5 L247.4 96.9 L247.7 97.2 L248.0 97.3 L248.3 97.2 L248.6 97.5 L248.9 97.7 L249.2 98.0 L249.5 98.1 L249.8 97.9 L250.1 97.8 L250.4 97.6 L250.7 97.8 L251.0 98.1 L251.3 98.5 L251.6 98.4 L251.9 98.2 L252.2 98.0 L252.5 97.8 L252.8 98.2 L253.1 98.5 L253.4 98.8 L253.7 98.6 L254.0 98.3 L254.3 98.3 L254.6 98.5 L254.9 98.8 L255.2 99.0 L255.5 99.0 L255.8 99.0 L256.1 99.5 L256.4 100.1 L256.7 100.6 L257.0 100.8 L257.3 100.9 L257.6 101.0 L257.9 101.0 L258.2 101.5 L258.5 102.0 L258.8 102.5 L259.1 102.8 L259.4 102.7 L259.7 102.6 L260.0 102.6 L260.3 103.0 L260.6 103.4 L260.9 103.7 L261.2 103.8 L261.5 103.7 L261.8 103.5 L262.1 103.5 L262.4 103.9 L262.7 104.2 L263.0 104.4 L263.3 104.2 L263.6 104.0 L263.9 104.1 L264.2 104.5 L264.5 104.8 L264.8 105.2 L265.1 105.0 L265.4 104.9 L265.7 104.9 L266.0 105.3 L266.3 105.8 L266.6 106.0 L266.9 105.9 L267.2 105.8 L267.5 105.7 L267.8 105.9 L268.1 106.3 L268.4 106.7 L268.7 106.8 L269.0 106.7 L269.3 106.5 L269.6 106.5 L269.9 106.9 L270.2 107.2 L270.5 107.3 L270.8 107.3 L271.1 107.2 L271.4 107.6 L271.7 107.9 L272.0 108.1 L272.3 108.0 L272.6 108.0 L272.9 108.3 L273.2 108.6 L273.5 108.8 L273.8 108.7 L274.1 108.6 L274.4 108.7 L274.7 109.0 L275.0 109.4 L275.3 109.4 L275.6 109.4 L275.9 109.4 L276.2 109.4 L276.5 109.7 L276.8 110.0 L277.1 110.3 L277.4 110.3 L277.7 110.2 L278.0 110.0 L278.3 110.2 L278.6 110.5 L278.9 110.7 L279.2 110.7 L279.5 110.7 L279.8 110.7 L280.1 110.9 L280.4 111.1 L280.7 111.4 L281.0 111.7 L281.3 111.6 L281.6 111.6 L281.9 111.5 L282.2 111.7 L282.5 111.9 L282.8 112.1 L283.1 112.0 L283.4 112.0 L283.7 112.2 L284.0 112.5 L284.3 112.8 L284.6 113.0 L284.9 113.0 L285.2 112.9 L285.5 112.8 L285.8 113.0 L286.1 113.2 L286.4 113.4 L286.7 113.6 L287.0 113.6 L287.3 113.7 L287.6 113.8 L287.9 114.3 L288.2 114.8 L288.5 115.3 L288.8 115.2 L289.1 115.0 L289.4 115.1 L289.7 115.5 L290.0 116.6 L290.3 118.7 L290.6 120.8 L290.9 122.9 L291.2 120.8 L291.5 118.7 L291.8 116.6 L292.1 116.6 L292.4 116.7 L292.7 116.7 L293.0 116.7 L293.3 116.7 L293.6 116.9 L293.9 117.1 L294.2 117.3 L294.5 117.4 L294.8 117.4 L295.1 117.3 L295.4 117.5 L295.7 117.7 L296.0 117.8 L296.3 118.0 L296.6 118.0 L296.9 118.0 L297.2 118.0 L297.5 118.2 L297.8 118.4 L298.1 118.7 L298.4 118.6 L298.7 118.6 L299.0 118.5 L299.3 118.6 L299.6 118.9 L299.9 119.2 L300.2 119.4 L300.5 119.2 L300.8 119.0 L301.1 119.1 L301.4 119.4 L301.7 119.6 L302.0 119.9 L302.3 119.9 L302.6 119.8 L302.9 119.7 L303.2 119.8 L303.5 120.1 L303.8 120.5 L304.1 120.4 L304.4 120.4 L304.7 120.3 L305.0 120.2 L305.3 120.5 L305.6 120.8 L305.9 120.9 L306.2 120.8 L306.5 120.8 L306.8 120.8 L307.1 121.1 L307.4 121.4 L307.7 121.6 L308.0 121.5 L308.3 121.3 L308.6 121.4 L308.9 121.7 L309.2 121.9 L309.5 122.2 L309.8 122.3 L310.1 122.3 L310.4 122.2 L310.7 122.4 L311.0 122.7 L311.3 123.1 L311.6 123.3 L311.9 123.1 L312.2 123.0 L312.5 123.2 L312.8 123.4 L313.1 123.7 L313.4 124.0 L313.7 124.0 L314.0 123.9 L314.3 123.9 L314.6 124.2 L314.9 124.5 L315.2 124.9 L315.5 124.9 L315.8 124.9 L316.1 124.9 L316.4 124.9 L316.7 125.1 L317.0 125.3 L317.3 125.6 L317.6 125.6 L317.9 125.6 L318.2 125.7 L318.5 126.0 L318.8 126.3 L319.1 126.6 L319.4 126.8 L319.7 126.7 L320.0 126.7 L320.3 126.7 L320.6 126.7 L320.9 127.0 L321.2 127.2 L321.5 127.4 L321.8 127.4 L322.1 127.3 L322.4 127.6 L322.7 127.9 L323.0 128.2 L323.3 128.3 L323.6 128.3 L323.9 128.2 L324.2 128.2 L324.5 128.3 L324.8 128.6 L325.1 128.9 L325.4 129.1 L325.7 129.1 L326.0 129.1 L326.3 129.1 L326.6 129.4 L326.9 129.8 L327.2 130.0 L327.5 129.9 L327.8 129.8 L328.1 129.8 L328.4 130.1 L328.7 130.4 L329.0 130.4 L329.3 130.4 L329.6 130.4 L329.9 130.6 L330.2 130.8 L330.5 131.0 L330.8 131.1 L331.1 131.1 L331.4 131.2 L331.7 131.2 L332.0 131.4 L332.3 131.6 L332.6 131.9 L332.9 132.0 L333.2 132.1 L333.5 132.1 L333.8 132.3 L334.1 132.7 L334.4 133.0 L334.7 133.0 L335.0 133.0 L335.3 132.9 L335.6 133.1 L335.9 133.3 L336.2 133.6 L336.5 133.8 L336.8 133.9 L337.1 133.9 L337.4 133.9 L337.7 134.1 L338.0 134.3 L338.3 134.6 L338.6 134.7 L338.9 134.7 L339.2 134.8 L339.5 134.9 L339.8 135.3 L340.1 135.6 L340.4 135.9 L340.7 135.8 L341.0 135.8 L341.3 135.7 L341.6 135.9 L341.9 136.1 L342.2 136.4 L342.5 136.6 L342.8 136.6 L343.1 136.6 L343.4 136.7 L343.7 136.9 L344.0 137.2 L344.3 137.5 L344.6 137.8 L344.9 137.9 L345.2 137.8 L345.5 137.8 L345.8 137.8 L346.1 138.0 L346.4 138.2 L346.7 138.4 L347.0 138.5 L347.3 138.6 L347.6 138.6 L347.9 138.7 L348.2 138.9 L348.5 139.2 L348.8 139.3 L349.1 139.4 L349.4 139.4 L349.7 139.5 L350.0 139.7 L350.3 140.0 L350.6 140.3 L350.9 140.5 L351.2 140.5 L351.5 140.5 L351.8 140.5 L352.1 140.6 L352.4 140.9 L352.7 141.3 L353.0 141.4 L353.3 141.5 L353.6 141.6 L353.9 141.9 L354.2 142.3 L354.5 142.6 L354.8 143.0 L355.1 143.0 L355.4 143.0 L355.7 143.2 L356.0 143.5 L356.3 143.8 L356.6 144.1 L356.9 144.2 L357.2 144.3 L357.5 144.4 L357.8 143.9 L358.1 143.4 L358.4 142.9 L358.7 142.3 L359.0 141.6 L359.3 140.9 L359.6 140.3 L359.9 139.7 L360.2 139.2 L360.5 138.7 L360.8 138.0 L361.1 137.5 L361.4 138.4" fill="none" stroke="#ff0000" stroke-width="3.30" stroke-linejoin="round" stroke-linecap="round"/>
<path d="M361.1 137.5 L361.4 138.4 L361.7 140.4 L362.0 142.5 L362.3 140.4 L362.6 138.4 L362.9 137.1 L363.2 140.1 L363.5 143.2 L363.8 142.2 L364.1 139.1 L364.4 136.1 L364.7 139.2 L365.0 142.4 L365.3 143.5 L365.6 140.2 L365.9 137.0 L366.2 139.8 L366.5 143.4 L366.8 146.9 L367.1 143.4 L367.4 139.8 L367.7 140.1 L368.0 143.3 L368.3 146.5 L368.6 143.3 L368.9 140.1 L369.2 140.5 L369.5 142.9 L369.8 143.7 L370.1 141.3 L370.4 138.9 L370.7 138.6 L371.0 138.6 L371.3 141.0 L371.6 143.1 L371.9 145.3 L372.2 144.6 L372.5 142.4 L372.8 140.3 L373.1 139.9 L373.4 140.1 L373.7 140.3 L374.0 140.4 L374.3 140.5 L374.6 140.6 L374.9 140.7 L375.2 141.0 L375.5 141.2 L375.8 141.4 L376.1 141.5 L376.4 141.5 L376.7 141.6 L377.0 141.8 L377.3 142.0 L377.6 142.2 L377.9 142.3 L378.2 142.4 L378.5 142.4 L378.8 142.7 L379.1 145.0 L379.4 147.6 L379.7 150.2 L380.0 151.0 L380.3 148.4 L380.6 145.8 L380.9 143.9 L381.2 144.1 L381.5 145.5 L381.8 147.2 L382.1 148.8 L382.4 148.3 L382.7 146.6 L383.0 145.0 L383.3 145.1 L383.6 145.2 L383.9 145.4 L384.2 145.6 L384.5 145.8 L384.8 146.1 L385.1 146.2 L385.4 146.2 L385.7 146.3 L386.0 146.5 L386.3 146.8 L386.6 147.1 L386.9 147.3 L387.2 147.5 L387.5 147.6 L387.8 147.7 L388.1 148.0 L388.4 148.3 L388.7 148.5 L389.0 148.6 L389.3 148.7 L389.6 149.0 L389.9 149.2 L390.2 149.5 L390.5 149.7 L390.8 149.8 L391.1 149.9 L391.4 150.1 L391.7 150.3 L392.0 150.6 L392.3 150.8 L392.6 151.0 L392.9 151.1 L393.2 151.3 L393.5 151.5 L393.8 151.8 L394.1 152.1 L394.4 152.3 L394.7 152.4 L395.0 152.5 L395.3 154.2 L395.6 156.8 L395.9 159.3 L396.2 161.9 L396.5 159.3 L396.8 156.8 L397.1 154.2 L397.4 154.1 L397.7 154.4 L398.0 154.6 L398.3 154.7 L398.6 154.9 L398.9 155.1 L399.2 155.4 L399.5 155.6 L399.8 155.9 L400.1 156.0 L400.4 156.1 L400.7 156.2 L401.0 156.5 L401.3 156.7 L401.6 157.0 L401.9 157.1 L402.2 157.3 L402.5 157.4 L402.8 157.6 L403.1 157.9 L403.4 158.3 L403.7 158.5 L404.0 158.6 L404.3 158.7 L404.6 158.9 L404.9 159.1 L405.2 159.4 L405.5 159.7 L405.8 159.8 L406.1 159.9 L406.4 160.1 L406.7 160.3 L407.0 160.6 L407.3 160.8 L407.6 161.0 L407.9 161.1 L408.2 161.3 L408.5 161.5 L408.8 161.7 L409.1 161.9 L409.4 162.2 L409.7 162.4 L410.0 162.5 L410.3 162.7 L410.6 162.8 L410.9 163.1 L411.2 163.3 L411.5 163.6 L411.8 163.9 L412.1 164.0 L412.4 164.1 L412.7 164.2 L413.0 164.5 L413.3 164.7 L413.6 164.9 L413.9 165.1 L414.2 165.2 L414.5 165.4 L414.8 165.6 L415.1 165.9 L415.4 166.1 L415.7 166.3 L416.0 166.4 L416.3 166.5 L416.6 166.6 L416.9 166.8 L417.2 167.1 L417.5 167.3 L417.8 167.5 L418.1 167.7 L418.4 167.8 L418.7 167.9 L419.0 168.1 L419.3 168.3 L419.6 168.6 L419.9 168.7 L420.2 168.9 L420.5 169.0 L420.8 169.2 L421.1 169.5 L421.4 169.8 L421.7 170.0 L422.0 170.2 L422.3 170.4 L422.6 170.5 L422.9 170.7 L423.2 171.0 L423.5 171.3 L423.8 171.4 L424.1 171.6 L424.4 171.7 L424.7 172.0 L425.0 172.2 L425.3 172.5 L425.6 172.7 L425.9 172.9 L426.2 173.0 L426.5 173.2 L426.8 173.5 L427.1 173.8 L427.4 174.0 L427.7 174.1 L428.0 174.2 L428.3 174.5 L428.6 174.8 L428.9 175.1 L429.2 175.2 L429.5 175.4 L429.8 175.5 L430.1 175.7 L430.4 175.9 L430.7 176.1 L431.0 176.4 L431.3 176.5 L431.6 176.7 L431.9 176.9 L432.2 177.2 L432.5 177.5 L432.8 177.7 L433.1 177.8 L433.4 177.9 L433.7 178.2 L434.0 178.4 L434.3 178.6 L434.6 178.8 L434.9 179.0 L435.2 179.2 L435.5 179.4 L435.8 179.7 L436.1 180.0 L436.4 180.2 L436.7 180.3 L437.0 180.4 L437.3 180.6 L437.6 180.9 L437.9 181.1 L438.2 183.3 L438.5 185.7 L438.8 188.0 L439.1 187.2 L439.4 184.9 L439.7 182.5 L440.0 182.6 L440.3 182.7 L440.6 182.9 L440.9 183.2 L441.2 183.5 L441.5 183.7 L441.8 184.0 L442.1 184.1 L442.4 184.3 L442.7 184.4 L443.0 184.6 L443.3 184.9 L443.6 185.2 L443.9 185.3 L444.2 185.5 L444.5 185.7 L444.8 185.9 L445.1 186.2 L445.4 186.5 L445.7 186.7 L446.0 186.8 L446.3 187.0 L446.6 187.2 L446.9 187.4 L447.2 187.7 L447.5 187.9 L447.8 188.1 L448.1 188.2 L448.4 188.4 L448.7 188.7 L449.0 188.9 L449.3 189.2 L449.6 189.4 L449.9 189.6 L450.2 189.8 L450.5 189.9 L450.8 190.1 L451.1 190.4 L451.4 190.6 L451.7 190.9 L452.0 191.0 L452.3 191.2 L452.6 191.4 L452.9 191.7 L453.2 191.9 L453.5 192.2 L453.8 192.5 L454.1 192.6 L454.4 192.7 L454.7 192.9 L455.0 193.1 L455.3 193.4 L455.6 193.6 L455.9 193.9 L456.2 194.0 L456.5 194.2 L456.8 194.4 L457.1 194.7 L457.4 194.9 L457.7 195.1 L458.0 195.2 L458.3 195.5 L458.6 195.8 L458.9 196.0 L459.2 196.1 L459.5 196.3 L459.8 196.5 L460.1 196.8 L460.4 197.1 L460.7 197.3 L461.0 197.4 L461.3 197.6 L461.6 197.8 L461.9 198.1 L462.2 198.4 L462.5 198.6 L462.8 198.8 L463.1 198.9 L463.4 199.1 L463.7 199.3 L464.0 199.6 L464.3 199.9 L464.6 200.1 L464.9 200.2 L465.2 200.4 L465.5 200.5 L465.8 200.8 L466.1 201.0 L466.4 201.3 L466.7 201.5 L467.0 201.7 L467.3 201.8 L467.6 201.9 L467.9 202.2 L468.2 202.5 L468.5 202.8 L468.8 202.9 L469.1 203.0 L469.4 203.2 L469.7 203.5 L470.0 203.7 L470.3 203.9 L470.6 204.1 L470.9 204.2 L471.2 204.4 L471.5 204.7 L471.8 204.9 L472.1 205.2 L472.4 205.4 L472.7 205.6 L473.0 205.7 L473.3 205.8 L473.6 206.0 L473.9 206.3 L474.2 206.5 L474.5 206.8 L474.8 207.0 L475.1 207.1 L475.4 207.2 L475.7 207.2 L476.0 207.4 L476.3 208.2 L476.6 209.1 L476.9 209.9 L477.2 210.7 L477.5 211.5 L477.8 210.7 L478.1 209.9 L478.4 210.4 L478.7 211.4 L479.0 212.4 L479.3 213.4 L479.6 212.4 L479.9 211.4 L480.2 211.7 L480.5 212.7 L480.8 213.7 L481.1 214.1 L481.4 213.0 L481.7 212.0 L482.0 212.6 L482.3 213.7 L482.6 214.8 L482.9 215.1 L483.2 214.0 L483.5 213.0 L483.8 213.0 L484.1 214.1 L484.4 215.2 L484.7 215.6 L485.0 214.5 L485.3 213.3 L485.6 212.8 L485.9 213.1 L486.2 213.7 L486.5 215.5 L486.8 217.2 L487.1 218.9 L487.4 218.3 L487.7 216.6 L488.0 214.9 L488.3 214.5 L488.6 214.7 L488.9 214.8 L489.2 214.9 L489.5 215.1 L489.8 215.3 L490.1 215.6 L490.4 215.8 L490.7 216.0 L491.0 216.1 L491.3 218.0 L491.6 219.8 L491.9 221.5 L492.2 222.0 L492.5 220.3 L492.8 218.6 L493.1 217.5 L493.4 217.8 L493.7 218.0 L494.0 218.2 L494.3 218.4 L494.6 218.6 L494.9 218.8 L495.2 219.0 L495.5 219.2 L495.8 219.5 L496.1 219.7 L496.4 219.9 L496.7 220.0 L497.0 220.2 L497.3 220.5 L497.6 220.8 L497.9 221.0 L498.2 221.1 L498.5 221.3 L498.8 221.5 L499.1 222.8 L499.4 223.7 L499.7 224.5 L500.0 224.2 L500.3 223.4 L500.6 222.8 L500.9 223.1 L501.2 223.4 L501.5 223.6 L501.8 223.7 L502.1 223.9 L502.4 224.0 L502.7 224.3 L503.0 224.5 L503.3 224.8 L503.6 225.0 L503.9 225.2 L504.2 225.3 L504.5 225.6 L504.8 225.8 L505.1 226.1 L505.4 226.3 L505.7 226.5 L506.0 226.6 L506.3 226.8 L506.6 227.1 L506.9 227.3 L507.2 227.6 L507.5 227.8 L507.8 228.0 L508.1 228.2 L508.4 228.4 L508.7 228.7 L509.0 229.0 L509.3 229.1 L509.6 229.3 L509.9 229.4 L510.2 229.7 L510.5 231.1 L510.8 232.1 L511.1 233.1 L511.4 232.8 L511.7 231.8 L512.0 231.0 L512.3 231.3 L512.6 231.5 L512.9 231.7 L513.2 231.9 L513.5 233.0 L513.8 233.8 L514.1 234.0 L514.4 233.3 L514.7 233.0 L515.0 233.2 L515.3 233.4 L515.6 233.6 L515.9 233.9 L516.2 234.2 L516.5 234.4 L516.8 234.5 L517.1 234.7 L517.4 234.9 L517.7 235.1 L518.0 235.4 L518.3 235.6 L518.6 235.8 L518.9 236.0 L519.2 236.2 L519.5 236.5 L519.8 236.8 L520.0 236.9 L520.4 237.1 L520.8 237.4 L521.2 237.7 L521.6 238.0 L522.0 238.3 L522.4 238.6 L522.8 238.8 L523.2 239.1 L523.6 239.4 L524.0 239.7 L524.4 239.9 L524.8 240.2 L525.2 240.5 L525.6 240.8 L526.0 241.1 L526.4 241.3 L526.8 241.6 L527.2 242.0 L527.6 242.3 L528.0 242.5 L528.4 242.7 L528.8 243.1 L529.2 243.4 L529.6 243.7 L530.0 243.9 L530.4 244.1 L530.8 244.5 L531.2 244.8 L531.6 245.0 L532.0 245.3 L532.4 245.6 L532.8 245.9 L533.2 246.2 L533.6 246.4 L534.0 246.7 L534.4 248.5 L534.8 249.8 L535.2 249.8 L535.6 248.5 L536.0 248.1 L536.4 248.4 L536.8 248.7 L537.2 249.0 L537.6 249.2 L538.0 249.5 L538.4 249.8 L538.8 250.1 L539.2 250.4 L539.6 250.7 L540.0 250.9 L540.4 251.2 L540.8 251.5 L541.2 251.8 L541.6 252.1 L542.0 252.3 L542.4 252.6 L542.8 252.9 L543.2 253.2 L543.6 253.5 L544.0 253.8 L544.4 254.0 L544.8 254.3 L545.2 254.7 L545.6 254.9 L546.0 255.2 L546.4 255.5 L546.8 255.8 L547.2 256.1 L547.6 256.3 L548.0 256.6 L548.4 256.9 L548.8 257.2 L549.2 257.5 L549.6 257.7 L550.0 258.0 L550.4 258.3 L550.8 258.6 L551.2 258.9 L551.6 259.1 L552.0 259.4 L552.4 259.7 L552.8 260.0 L553.2 260.2 L553.6 260.5 L554.0 260.8 L554.4 261.1 L554.8 261.4 L555.2 261.7 L555.6 261.9 L556.0 262.2 L556.4 262.6 L556.8 262.8 L557.2 263.1 L557.6 263.3 L558.0 263.6 L558.4 264.0 L558.8 264.2 L559.2 264.5 L559.6 264.8 L560.0 265.1 L560.4 265.4 L560.8 265.6 L561.2 265.9 L561.6 266.2 L562.0 266.5 L562.4 266.8 L562.8 267.1 L563.2 267.3 L563.6 267.6 L564.0 267.9 L564.4 268.2 L564.8 268.5 L565.2 268.7 L565.6 269.0 L566.0 269.3 L566.4 269.6 L566.8 269.9 L567.2 270.1 L567.6 270.4 L568.0 270.7 L568.4 271.0 L568.8 271.3 L569.2 271.6 L569.6 271.8 L570.0 272.1 L570.4 272.4 L570.8 272.7 L571.2 273.0 L571.6 273.3 L572.0 273.6 L572.4 273.9 L572.8 274.2 L573.2 274.4 L573.6 274.7 L574.0 275.0 L574.4 275.3 L574.8 277.3 L575.2 277.3 L575.6 276.2 L576.0 276.5 L576.4 276.8 L576.8 277.1 L577.2 277.4 L577.6 277.7 L578.0 277.9 L578.4 278.2 L578.8 278.5 L579.2 278.8 L579.6 279.1 L580.0 279.4 L580.4 279.7 L580.8 281.7 L581.2 281.7 L581.6 280.6 L582.0 280.9 L582.4 281.1 L582.8 281.4 L583.2 281.7 L583.6 282.0 L584.0 282.3 L584.4 282.6 L584.8 282.9 L585.2 283.2 L585.6 283.5 L586.0 283.8 L586.4 284.0 L586.8 284.3 L587.2 284.6 L587.6 286.0 L588.0 287.5 L588.4 286.0 L588.8 285.8 L589.2 286.1 L589.6 286.4 L590.0 286.7 L590.4 286.9 L590.8 287.2 L591.2 287.5 L591.6 287.8 L592.0 288.1 L592.4 288.4 L592.8 288.7 L593.2 289.0 L593.6 289.9 L594.0 291.5 L594.4 289.9 L594.8 290.1 L595.2 290.4 L595.6 290.7 L596.0 291.0 L596.4 291.3 L596.8 291.6 L597.2 291.9 L597.6 292.2 L598.0 292.5 L598.4 292.7 L598.8 293.0 L599.2 293.3 L599.6 293.6 L600.0 293.9 L600.4 294.2 L600.8 294.5 L601.2 294.8 L601.6 295.1 L602.0 295.4 L602.4 295.7 L602.8 295.9 L603.2 296.2 L603.6 296.5 L604.0 296.8 L604.4 297.1 L604.8 297.4 L605.2 297.7 L605.6 298.0 L606.0 298.3 L606.4 298.6 L606.8 298.8 L607.2 299.1 L607.6 299.4 L608.0 299.7 L608.4 300.0 L608.8 300.3 L609.2 300.6 L609.6 300.9 L610.0 301.2 L610.4 301.5 L610.8 301.8 L611.2 302.1 L611.6 302.5 L612.0 302.8 L612.4 303.1 L612.8 303.4 L613.2 303.7 L613.6 304.0 L614.0 304.3 L614.4 304.6 L614.8 304.9 L615.2 305.2 L615.6 305.5 L616.0 305.8 L616.4 306.1 L616.8 306.4 L617.2 306.7 L617.6 307.0 L618.0 307.3 L618.4 307.6 L618.8 307.9 L619.2 308.2 L619.6 308.5 L620.0 308.8 L620.4 309.1 L620.8 309.4 L621.2 309.7 L621.6 310.0 L622.0 310.3 L622.4 310.6 L622.8 310.9 L623.2 311.2 L623.6 311.5 L624.0 311.8 L624.4 312.1 L624.8 312.4 L625.2 312.7 L625.6 313.0 L626.0 313.3 L626.4 313.6 L626.8 313.9 L627.2 314.3 L627.6 314.6 L628.0 314.9 L628.4 315.2 L628.8 315.5 L629.2 315.8 L629.6 316.1 L630.0 316.4 L630.4 316.7 L630.8 317.0 L631.2 317.3 L631.6 317.6 L632.0 317.9 L632.4 318.2 L632.8 318.5 L633.2 318.8 L633.6 319.1 L634.0 319.4 L634.4 319.7 L634.8 320.0 L635.2 320.3 L635.6 320.6 L636.0 320.9 L636.4 321.2 L636.8 321.5 L637.2 321.8 L637.6 322.1 L638.0 322.4 L638.4 322.7 L638.8 323.0 L639.2 323.3 L639.6 323.6 L640.0 323.9 L640.4 324.2 L640.8 324.5 L641.2 324.8 L641.6 325.1 L642.0 325.4 L642.4 326.7 L642.8 327.6 L643.2 327.6 L643.6 326.7 L644.0 327.0 L644.4 327.3 L644.8 327.6 L645.2 327.9 L645.6 328.2 L646.0 328.5 L646.4 328.8 L646.8 329.1 L647.2 329.4 L647.6 329.7 L648.0 330.0 L648.4 330.3 L648.8 330.6 L649.2 330.9 L649.6 332.4 L650.0 333.3 L650.4 332.4 L650.8 332.1 L651.2 332.4 L651.6 332.7 L652.0 333.0 L652.4 333.3 L652.8 333.6 L653.2 333.9 L653.6 334.2 L654.0 334.5 L654.4 334.8 L654.8 335.1 L655.2 335.4 L655.6 335.7 L656.0 336.0 L656.4 336.3 L656.8 336.6 L657.2 338.2 L657.6 338.7 L658.0 337.7 L658.4 337.9 L658.8 338.2 L659.2 338.5 L659.6 338.8 L660.0 339.1 L660.4 339.4 L660.8 339.7 L661.2 340.0 L661.6 340.3 L662.0 340.6 L662.4 340.9 L662.8 341.2 L663.2 341.5 L663.6 341.8 L664.0 342.1 L664.4 342.4 L664.8 342.7 L665.2 343.0 L665.6 343.3 L666.0 343.6 L666.4 343.9 L666.8 344.2 L667.2 344.5 L667.6 344.8 L668.0 345.1 L668.4 345.4 L668.8 345.7 L669.2 346.0 L669.6 346.3 L670.0 346.6 L670.4 346.9 L670.8 347.2 L671.2 347.6 L671.6 347.9 L672.0 348.2 L672.4 348.5 L672.8 348.8 L673.2 349.1 L673.6 349.4 L674.0 349.7 L674.4 350.0 L674.8 350.3 L675.2 350.6 L675.6 350.9 L676.0 351.2 L676.4 351.5 L676.8 351.8 L677.2 352.1 L677.6 352.4 L678.0 352.8 L678.4 353.1 L678.8 353.4 L679.2 353.7 L679.6 354.0 L680.0 354.3 L680.4 354.6 L680.8 354.9 L681.2 355.2 L681.6 355.5 L682.0 355.8 L682.4 356.1 L682.8 356.4 L683.2 356.7 L683.6 357.0 L684.0 357.3 L684.4 357.6 L684.8 358.0 L685.2 358.3 L685.6 358.6 L686.0 358.9 L686.4 359.2 L686.8 359.5 L687.2 359.8 L687.6 360.1 L688.0 360.4 L688.4 360.7 L688.8 361.0 L689.2 361.3 L689.6 361.6 L690.0 361.9 L690.4 362.2 L690.8 362.5 L691.2 362.8 L691.6 363.2 L692.0 363.5 L692.4 363.8 L692.8 364.1 L693.2 364.4 L693.6 364.7 L694.0 365.0 L694.4 365.3 L694.8 365.6 L695.2 365.9 L695.6 366.2 L696.0 366.5 L696.4 366.8 L696.8 367.1 L697.2 367.4 L697.6 367.7 L698.0 368.1 L698.4 368.4 L698.8 368.7 L699.2 369.0 L699.6 369.3 L700.0 369.6 L701.0 370.3 L702.0 371.1 L703.0 371.9 L704.0 372.6 L705.0 373.4 L706.0 374.2 L707.0 374.9 L708.0 375.7 L709.0 376.5 L710.0 377.2 L711.0 378.0 L712.0 378.8 L713.0 379.5 L714.0 380.3 L715.0 381.1 L716.0 381.8 L717.0 382.6 L718.0 383.4 L719.0 384.1 L720.0 384.9 L721.0 385.7 L722.0 386.5 L723.0 387.2 L724.0 388.0 L725.0 388.8 L726.0 389.6 L727.0 390.3 L728.0 391.1 L729.0 391.9 L730.0 392.6 L731.0 393.4 L732.0 394.2 L733.0 395.0 L734.0 395.7 L735.0 396.5 L736.0 397.3 L737.0 398.0 L738.0 398.8 L739.0 399.6 L740.0 400.4 L741.0 401.1 L742.0 401.9 L743.0 402.7 L744.0 403.5 L745.0 404.2 L746.0 405.0 L747.0 405.8 L748.0 406.5 L749.0 407.3 L750.0 408.1 L751.0 408.9 L752.0 409.6 L753.0 410.4 L754.0 411.2 L755.0 412.0 L756.0 412.7 L757.0 413.5 L758.0 414.3 L759.0 415.0 L760.0 415.8 L761.0 416.6 L762.0 417.4 L763.0 418.1 L764.0 418.9 L765.0 419.7 L766.0 420.4 L767.0 421.2 L768.0 422.0 L769.0 422.8 L770.0 423.5 L771.0 424.3 L772.0 425.1 L773.0 425.9 L774.0 426.6 L775.0 427.4 L776.0 428.2 L777.0 428.9 L778.0 429.7 L779.0 430.5 L780.0 431.3 L781.0 432.0 L782.0 432.8 L783.0 433.6 L784.0 434.4 L785.0 435.1 L786.0 435.9 L787.0 436.7 L788.0 437.5 L789.0 438.2 L790.0 439.0 L791.0 439.8 L792.0 440.6 L793.0 441.3 L794.0 442.1 L795.0 442.9 L796.0 443.7 L797.0 444.4 L798.0 445.2 L799.0 446.0 L800.0 446.7 L801.0 447.5 L802.0 448.3 L803.0 449.1 L804.0 449.8 L805.0 450.6 L806.0 451.4 L807.0 452.2 L808.0 452.9 L809.0 453.7 L810.0 454.5 L811.0 455.3 L812.0 456.0 L813.0 456.8 L814.0 457.6 L815.0 458.4 L816.0 459.1 L817.0 459.9 L818.0 460.7 L819.0 461.4 L820.0 462.2 L821.0 463.0 L822.0 463.8 L823.0 464.5 L824.0 465.3 L825.0 466.1 L826.0 466.9 L827.0 467.6 L828.0 468.4 L829.0 469.2 L830.0 470.0 L831.0 470.7 L832.0 471.5 L833.0 472.3 L834.0 473.1 L835.0 473.8 L836.0 474.6 L837.0 475.4 L838.0 476.2 L839.0 477.0 L840.0 477.8 L841.0 478.5 L842.0 479.3 L843.0 480.1 L844.0 480.9 L845.0 481.7 L846.0 482.5 L847.0 483.3 L848.0 484.1 L849.0 484.9 L850.0 485.7 L851.0 486.5 L852.0 487.2 L853.0 488.0 L854.0 488.8 L855.0 489.6 L856.0 490.4 L857.0 491.2 L858.0 492.0 L859.0 492.8 L860.0 493.6 L861.0 494.4 L862.0 495.1 L863.0 495.9 L864.0 496.7 L865.0 497.5 L866.0 498.3 L867.0 499.1 L868.0 499.9 L869.0 500.7 L870.0 501.5 L871.0 502.3 L872.0 503.1 L873.0 503.8 L874.0 504.6 L875.0 505.4 L876.0 506.2 L877.0 507.0 L878.0 507.8 L879.0 508.6 L880.0 509.4 L881.0 510.2 L882.0 511.0 L883.0 511.8 L884.0 512.5 L885.0 513.3 L886.0 514.1 L887.0 514.9 L888.0 515.7 L889.0 516.5 L890.0 517.3 L891.0 518.1 L892.0 518.9 L893.0 519.7 L894.0 520.5 L895.0 521.2 L896.0 522.0 L897.0 522.8 L898.0 523.6 L899.0 524.4 L900.0 525.2 L901.0 526.0 L902.0 526.8 L903.0 527.6 L904.0 528.4 L905.0 529.2 L906.0 530.0 L907.0 530.9 L908.0 531.7 L909.0 532.5 L910.0 533.3 L911.0 534.1 L912.0 534.9 L913.0 535.7 L914.0 536.5 L915.0 537.3 L916.0 538.1 L917.0 538.8 L918.0 539.6 L919.0 540.3 L920.0 541.1 L921.0 541.8 L922.0 542.6 L923.0 543.4 L924.0 544.1 L925.0 544.9 L926.0 545.6 L927.0 546.4 L928.0 547.1 L929.0 547.9 L930.0 548.6 L931.0 549.4 L932.0 550.2 L933.0 550.9 L934.0 551.7 L935.0 552.4 L936.0 553.2 L937.0 553.9 L938.0 554.7 L939.0 555.5 L940.0 556.3 L941.0 557.1 L942.0 557.9 L943.0 558.7 L944.0 559.5 L945.0 560.2 L946.0 561.0 L947.0 561.8 L948.0 562.6 L949.0 563.4 L950.0 564.2 L951.0 565.0 L952.0 565.8 L953.0 566.6 L954.0 567.4 L955.0 568.2 L956.0 569.0 L957.0 569.8 L958.0 570.6" fill="none" stroke="#ff0000" stroke-width="2.70" stroke-linejoin="round" stroke-linecap="round"/>
</g>
<rect x="345.30" y="135.40" width="15.40" height="15.40" fill="none" stroke="#000" stroke-width="3.5"/>
<rect x="372.40" y="142.80" width="15.40" height="15.40" fill="none" stroke="#000" stroke-width="3.5"/>
<rect x="404.70" y="156.70" width="15.40" height="15.40" fill="none" stroke="#000" stroke-width="3.5"/>
<rect x="520.50" y="231.70" width="15.40" height="15.40" fill="none" stroke="#000" stroke-width="3.5"/>
<rect x="561.30" y="261.60" width="15.40" height="15.40" fill="none" stroke="#000" stroke-width="3.5"/>
<rect x="600.00" y="289.50" width="15.40" height="15.40" fill="none" stroke="#000" stroke-width="3.5"/>
<rect x="661.60" y="334.00" width="15.40" height="15.40" fill="none" stroke="#000" stroke-width="3.5"/>
<rect x="707.10" y="372.70" width="15.40" height="15.40" fill="none" stroke="#000" stroke-width="3.5"/>
<rect x="829.20" y="468.30" width="15.40" height="15.40" fill="none" stroke="#000" stroke-width="3.5"/>
<rect x="930.70" y="541.80" width="15.40" height="15.40" fill="none" stroke="#000" stroke-width="3.5"/>
<rect x="171.20" y="61.50" width="786.30" height="505.70" fill="none" stroke="#000" stroke-width="3.2"/>
<text x="353.00" y="41.6" font-size="35.0" text-anchor="middle">U</text>
<text x="379.80" y="41.6" font-size="35.0" text-anchor="middle">B</text>
<text x="412.30" y="41.6" font-size="35.0" text-anchor="middle">V</text>
<text x="527.90" y="41.6" font-size="35.0" text-anchor="middle">J</text>
<text x="568.90" y="41.6" font-size="35.0" text-anchor="middle">H</text>
<text x="607.60" y="41.6" font-size="35.0" text-anchor="middle">K</text>
<text x="669.20" y="41.6" font-size="35.0" text-anchor="middle">W1</text>
<text x="714.60" y="41.6" font-size="35.0" text-anchor="middle">W2</text>
<text x="836.70" y="41.6" font-size="35.0" text-anchor="middle">W3</text>
<text x="938.30" y="41.6" font-size="35.0" text-anchor="middle">W4</text>
<text x="171.20" y="604.8" font-size="35.0" text-anchor="middle">3.0</text>
<text x="334.95" y="604.8" font-size="35.0" text-anchor="middle">3.5</text>
<text x="498.70" y="604.8" font-size="35.0" text-anchor="middle">4.0</text>
<text x="662.45" y="604.8" font-size="35.0" text-anchor="middle">4.5</text>
<text x="826.20" y="604.8" font-size="35.0" text-anchor="middle">5.0</text>
<text><tspan x="111.1" y="109.80" font-size="40.5" text-anchor="middle">−</tspan><tspan x="158.0" y="105.60" font-size="34.4" text-anchor="end">10</tspan></text>
<text><tspan x="111.1" y="237.50" font-size="40.5" text-anchor="middle">−</tspan><tspan x="158.0" y="233.30" font-size="34.4" text-anchor="end">12</tspan></text>
<text><tspan x="111.1" y="365.20" font-size="40.5" text-anchor="middle">−</tspan><tspan x="158.0" y="361.00" font-size="34.4" text-anchor="end">14</tspan></text>
<text><tspan x="111.1" y="492.90" font-size="40.5" text-anchor="middle">−</tspan><tspan x="158.0" y="488.70" font-size="34.4" text-anchor="end">16</tspan></text>
<text><tspan x="500.90" y="659.60" font-size="35.0">log(</tspan><tspan x="556.60" y="659.60" font-size="35.0" class="it">λ</tspan><tspan x="576.20" y="659.60" font-size="35.0">/</tspan><tspan x="590.60" y="659.60" font-size="35.0">Å</tspan><tspan x="615.00" y="659.60" font-size="35.0">)</tspan></text>
<g transform="translate(75.5,500.4) rotate(-90)">
<text><tspan x="0.00" y="0.00" font-size="35.0">log(</tspan><tspan x="56.00" y="0.00" font-size="35.0" class="it">F</tspan><tspan x="78.00" y="5.50" font-size="24.5" class="it">λ</tspan><tspan x="94.00" y="0.00" font-size="35.0">/</tspan><tspan x="106.20" y="0.00" font-size="35.0">(</tspan><tspan x="117.30" y="0.00" font-size="35.0">erg </tspan><tspan x="166.70" y="0.00" font-size="35.0">cm</tspan><tspan x="218.30" y="-9.20" font-size="28.0" text-anchor="middle">−</tspan><tspan x="227.30" y="-12.70" font-size="24.5">2 </tspan><tspan x="243.50" y="0.00" font-size="35.0">s</tspan><tspan x="266.60" y="-9.20" font-size="28.0" text-anchor="middle">−</tspan><tspan x="274.00" y="-12.70" font-size="24.5">1 </tspan><tspan x="291.50" y="0.00" font-size="35.0">Å</tspan><tspan x="326.40" y="-9.20" font-size="28.0" text-anchor="middle">−</tspan><tspan x="332.80" y="-12.70" font-size="24.5">1</tspan><tspan x="347.50" y="0.00" font-size="35.0">))</tspan></text>
</g>
<text><tspan x="209.90" y="497.00" font-size="38.0" class="it">R</tspan><tspan x="235.00" y="502.20" font-size="26.6" class="it">V </tspan><tspan x="260.63" y="503.60" font-size="49.0">= </tspan><tspan x="296.80" y="497.00" font-size="38.0" letter-spacing="0.7">3.10</tspan></text>
<text><tspan x="211.00" y="537.40" font-size="38.0" class="it">E</tspan><tspan x="233.90" y="537.40" font-size="38.0">(</tspan><tspan x="246.80" y="537.40" font-size="38.0" class="it">B </tspan><tspan x="274.68" y="544.30" font-size="49.0">− </tspan><tspan x="309.40" y="537.40" font-size="38.0" class="it">V</tspan><tspan x="331.90" y="537.40" font-size="38.0">) </tspan><tspan x="350.08" y="544.00" font-size="49.0">= </tspan><tspan x="387.50" y="537.40" font-size="38.0" letter-spacing="0.7">0.034</tspan></text>
</svg></body></html>
